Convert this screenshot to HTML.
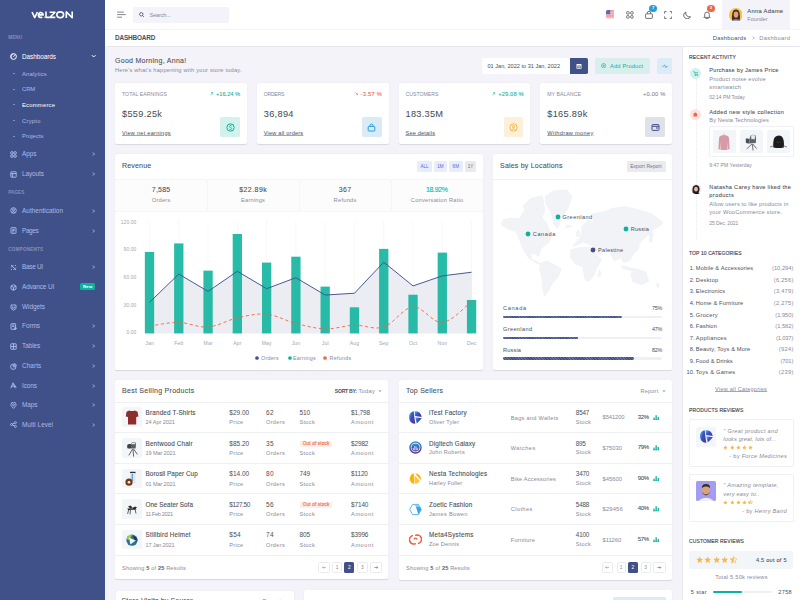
<!DOCTYPE html><html><head><meta charset="utf-8"><style>*{margin:0;padding:0;box-sizing:border-box}
html,body{width:800px;height:600px;overflow:hidden;background:#f3f3f9;font-family:"Liberation Sans", sans-serif}
.b{position:absolute;display:block}
.t{position:absolute;line-height:0;white-space:nowrap}
</style></head><body>
<div class="b" style="left:0px;top:0px;width:105px;height:600px;background:#405189;border-radius:0px;"></div>
<svg class="b" style="left:0px;top:0px;" width="105" height="30" viewBox="0 0 105 30"><g fill="none" stroke="#fff" stroke-width="1.6" stroke-linejoin="round"><path d="M32 12 L34.7 17.6 L37.4 12"/><path d="M38.4 14.9 H43.2 A2.45 2.45 0 1 0 42.2 17"/><path d="M46 11.6 V17.4 H49"/><path d="M49.6 12.2 H55 L49.8 17.4 H55.3"/><ellipse cx="60.2" cy="14.8" rx="3.4" ry="2.9"/><path d="M66.3 18 V11.9 L72.2 17.7 V11.6"/></g><circle cx="44.6" cy="17.2" r="0.75" fill="#f7b84b"/></svg>
<div class="t" id="t0" style="top:38px;font-size:4.6px;color:#838fb9;font-weight:600;letter-spacing:0.056px;left:8.3px;">MENU</div>
<svg class="b" style="left:10.3px;top:52.9px;" width="7" height="7" viewBox="0 0 7 7"><g fill="none" stroke="#fff" stroke-width="1"><circle cx="3.5" cy="3.5" r="2.9"/><path d="M3.5 3.8 L5 2.2"/><path d="M1.9 4.9 A1.9 1.9 0 0 1 3.5 1.6" stroke-width="0.7"/></g></svg>
<div class="t" id="t1" style="top:56.7px;font-size:6.4px;color:#fff;letter-spacing:-0.052px;left:22px;">Dashboards</div>
<svg class="b" style="left:90.8px;top:54px;" width="5.4" height="4" viewBox="0 0 5.4 4"><path d="M0.9 1.2 L2.7 3 L4.5 1.2" stroke="#fff" stroke-width="1" fill="none"/></svg>
<div class="b" style="left:12.6px;top:73.15px;width:2.2px;height:0.55px;background:rgba(171,185,232,.6);border-radius:0px;"></div>
<div class="t" id="t2" style="top:73.75px;font-size:5.9px;color:#abb9e8;letter-spacing:0.146px;left:22px;">Analytics</div>
<div class="b" style="left:12.6px;top:88.65px;width:2.2px;height:0.55px;background:rgba(171,185,232,.6);border-radius:0px;"></div>
<div class="t" id="t3" style="top:89.25px;font-size:5.9px;color:#abb9e8;letter-spacing:-0.111px;left:22px;">CRM</div>
<div class="b" style="left:12.6px;top:104.4px;width:2.2px;height:0.55px;background:rgba(171,185,232,.6);border-radius:0px;"></div>
<div class="t" id="t4" style="top:105px;font-size:5.9px;color:#fff;letter-spacing:0.195px;left:22px;">Ecommerce</div>
<div class="b" style="left:12.6px;top:120.15px;width:2.2px;height:0.55px;background:rgba(171,185,232,.6);border-radius:0px;"></div>
<div class="t" id="t5" style="top:120.75px;font-size:5.9px;color:#abb9e8;letter-spacing:0.228px;left:22px;">Crypto</div>
<div class="b" style="left:12.6px;top:135.65px;width:2.2px;height:0.55px;background:rgba(171,185,232,.6);border-radius:0px;"></div>
<div class="t" id="t6" style="top:136.25px;font-size:5.9px;color:#abb9e8;letter-spacing:0.031px;left:22px;">Projects</div>
<svg class="b" style="left:10.3px;top:150.75px;" width="7" height="7" viewBox="0 0 7 7"><g fill="none" stroke="#abb9e8" stroke-width="0.95"><circle cx="1.9" cy="1.9" r="1.3"/><circle cx="5.1" cy="1.9" r="1.3"/><circle cx="1.9" cy="5.1" r="1.3"/><circle cx="5.1" cy="5.1" r="1.3"/></g></svg>
<div class="t" id="t7" style="top:154.25px;font-size:6.4px;color:#abb9e8;letter-spacing:-0.026px;left:22px;">Apps</div>
<svg class="b" style="left:91.2px;top:151.25px;" width="6" height="6" viewBox="0 0 6 6"><path d="M1.9 1.5 L3.4 3 L1.9 4.5" stroke="#abb9e8" stroke-width="0.95" fill="none"/></svg>
<svg class="b" style="left:10.3px;top:170.5px;" width="7" height="7" viewBox="0 0 7 7"><g fill="none" stroke="#abb9e8" stroke-width="0.95"><rect x="0.8" y="0.8" width="5.4" height="5.4" rx="0.5"/><path d="M0.8 2.6 H6.2 M2.6 2.6 V6.2"/></g></svg>
<div class="t" id="t8" style="top:174.0px;font-size:6.4px;color:#abb9e8;letter-spacing:-0.065px;left:22px;">Layouts</div>
<svg class="b" style="left:91.2px;top:171.0px;" width="6" height="6" viewBox="0 0 6 6"><path d="M1.9 1.5 L3.4 3 L1.9 4.5" stroke="#abb9e8" stroke-width="0.95" fill="none"/></svg>
<div class="t" id="t9" style="top:192.5px;font-size:4.6px;color:#838fb9;font-weight:600;letter-spacing:0.062px;left:8.3px;">PAGES</div>
<svg class="b" style="left:10.3px;top:207.25px;" width="7" height="7" viewBox="0 0 7 7"><g fill="none" stroke="#abb9e8" stroke-width="0.95"><circle cx="3.5" cy="3.5" r="2.8"/><circle cx="3.5" cy="3" r="1"/><path d="M1.8 5.6 Q3.5 3.8 5.2 5.6"/></g></svg>
<div class="t" id="t10" style="top:210.75px;font-size:6.4px;color:#abb9e8;letter-spacing:0.037px;left:22px;">Authentication</div>
<svg class="b" style="left:91.2px;top:207.75px;" width="6" height="6" viewBox="0 0 6 6"><path d="M1.9 1.5 L3.4 3 L1.9 4.5" stroke="#abb9e8" stroke-width="0.95" fill="none"/></svg>
<svg class="b" style="left:10.3px;top:227.0px;" width="7" height="7" viewBox="0 0 7 7"><g fill="none" stroke="#abb9e8" stroke-width="0.95"><rect x="1" y="0.7" width="5" height="5.6" rx="0.5"/><path d="M2.3 2.3 H4.7 M2.3 3.6 H4.7 M2.3 4.9 H3.8"/></g></svg>
<div class="t" id="t11" style="top:230.5px;font-size:6.4px;color:#abb9e8;letter-spacing:-0.356px;left:22px;">Pages</div>
<svg class="b" style="left:91.2px;top:227.5px;" width="6" height="6" viewBox="0 0 6 6"><path d="M1.9 1.5 L3.4 3 L1.9 4.5" stroke="#abb9e8" stroke-width="0.95" fill="none"/></svg>
<div class="t" id="t12" style="top:249.5px;font-size:4.6px;color:#838fb9;font-weight:600;letter-spacing:0.201px;left:8.3px;">COMPONENTS</div>
<svg class="b" style="left:10.3px;top:263.75px;" width="7" height="7" viewBox="0 0 7 7"><g fill="none" stroke="#abb9e8" stroke-width="0.95"><path d="M1 1 L6 6 M1 3.5 L3.5 1 M3.5 6 L6 3.5 M1 6 L2 5 M5 2 L6 1"/></g></svg>
<div class="t" id="t13" style="top:267.25px;font-size:6.4px;color:#abb9e8;letter-spacing:-0.289px;left:22px;">Base UI</div>
<svg class="b" style="left:91.2px;top:264.25px;" width="6" height="6" viewBox="0 0 6 6"><path d="M1.9 1.5 L3.4 3 L1.9 4.5" stroke="#abb9e8" stroke-width="0.95" fill="none"/></svg>
<svg class="b" style="left:10.3px;top:283.5px;" width="7" height="7" viewBox="0 0 7 7"><g fill="none" stroke="#abb9e8" stroke-width="0.95"><path d="M3.5 0.7 L6 2 V5 L3.5 6.3 L1 5 V2 Z M1 2 L3.5 3.3 L6 2 M3.5 3.3 V6.3"/></g></svg>
<div class="t" id="t14" style="top:287.0px;font-size:6.4px;color:#abb9e8;letter-spacing:-0.089px;left:22px;">Advance UI</div>
<svg class="b" style="left:10.3px;top:303.75px;" width="7" height="7" viewBox="0 0 7 7"><g fill="none" stroke="#abb9e8" stroke-width="0.95"><path d="M1 1 H6 V4.5 L3.5 6.3 L1 4.5 Z M2.4 2.5 V4 H4.6 V2.5"/></g></svg>
<div class="t" id="t15" style="top:307.25px;font-size:6.4px;color:#abb9e8;letter-spacing:-0.016px;left:22px;">Widgets</div>
<svg class="b" style="left:10.3px;top:322.75px;" width="7" height="7" viewBox="0 0 7 7"><g fill="none" stroke="#abb9e8" stroke-width="0.95"><rect x="1" y="0.7" width="4.6" height="5.6" rx="0.4"/><path d="M2.2 2.2 H4.4 M2.2 3.4 H4.4"/><circle cx="5.4" cy="5.4" r="0.9" fill="#abb9e8"/></g></svg>
<div class="t" id="t16" style="top:326.25px;font-size:6.4px;color:#abb9e8;letter-spacing:-0.027px;left:22px;">Forms</div>
<svg class="b" style="left:91.2px;top:323.25px;" width="6" height="6" viewBox="0 0 6 6"><path d="M1.9 1.5 L3.4 3 L1.9 4.5" stroke="#abb9e8" stroke-width="0.95" fill="none"/></svg>
<svg class="b" style="left:10.3px;top:342.75px;" width="7" height="7" viewBox="0 0 7 7"><g fill="none" stroke="#abb9e8" stroke-width="0.95"><rect x="0.8" y="0.8" width="5.4" height="5.4" rx="0.4"/><path d="M0.8 3.5 H6.2 M3.5 0.8 V6.2"/></g></svg>
<div class="t" id="t17" style="top:346.25px;font-size:6.4px;color:#abb9e8;letter-spacing:-0.047px;left:22px;">Tables</div>
<svg class="b" style="left:91.2px;top:343.25px;" width="6" height="6" viewBox="0 0 6 6"><path d="M1.9 1.5 L3.4 3 L1.9 4.5" stroke="#abb9e8" stroke-width="0.95" fill="none"/></svg>
<svg class="b" style="left:10.3px;top:362.5px;" width="7" height="7" viewBox="0 0 7 7"><g fill="none" stroke="#abb9e8" stroke-width="0.95"><path d="M3.2 1 A2.7 2.7 0 1 0 6 3.8 H3.2 Z"/><path d="M4.2 0.6 A2.5 2.5 0 0 1 6.4 2.8 H4.2 Z"/></g></svg>
<div class="t" id="t18" style="top:366.0px;font-size:6.4px;color:#abb9e8;letter-spacing:0.084px;left:22px;">Charts</div>
<svg class="b" style="left:91.2px;top:363.0px;" width="6" height="6" viewBox="0 0 6 6"><path d="M1.9 1.5 L3.4 3 L1.9 4.5" stroke="#abb9e8" stroke-width="0.95" fill="none"/></svg>
<svg class="b" style="left:10.3px;top:382.25px;" width="7" height="7" viewBox="0 0 7 7"><g fill="none" stroke="#abb9e8" stroke-width="0.95"><path d="M0.8 6.3 L3 0.8 L5.2 6.3 M1.7 4.2 H4.3 M4.2 2.5 L6.3 5.5"/></g></svg>
<div class="t" id="t19" style="top:385.75px;font-size:6.4px;color:#abb9e8;letter-spacing:-0.070px;left:22px;">Icons</div>
<svg class="b" style="left:91.2px;top:382.75px;" width="6" height="6" viewBox="0 0 6 6"><path d="M1.9 1.5 L3.4 3 L1.9 4.5" stroke="#abb9e8" stroke-width="0.95" fill="none"/></svg>
<svg class="b" style="left:10.3px;top:401.5px;" width="7" height="7" viewBox="0 0 7 7"><g fill="none" stroke="#abb9e8" stroke-width="0.95"><path d="M3.5 6.4 C1 4 0.9 3 0.9 2.7 A2.6 2.6 0 0 1 6.1 2.7 C6.1 3 6 4 3.5 6.4 Z"/><circle cx="3.5" cy="2.8" r="0.9"/></g></svg>
<div class="t" id="t20" style="top:405.0px;font-size:6.4px;color:#abb9e8;letter-spacing:-0.047px;left:22px;">Maps</div>
<svg class="b" style="left:91.2px;top:402.0px;" width="6" height="6" viewBox="0 0 6 6"><path d="M1.9 1.5 L3.4 3 L1.9 4.5" stroke="#abb9e8" stroke-width="0.95" fill="none"/></svg>
<svg class="b" style="left:10.3px;top:421.25px;" width="7" height="7" viewBox="0 0 7 7"><g fill="none" stroke="#abb9e8" stroke-width="0.95"><circle cx="1.6" cy="3.5" r="1"/><circle cx="5.4" cy="1.6" r="1"/><circle cx="5.4" cy="5.4" r="1"/><path d="M2.5 3 L4.5 2 M2.5 4 L4.5 5"/></g></svg>
<div class="t" id="t21" style="top:424.75px;font-size:6.4px;color:#abb9e8;letter-spacing:0.045px;left:22px;">Multi Level</div>
<svg class="b" style="left:91.2px;top:421.75px;" width="6" height="6" viewBox="0 0 6 6"><path d="M1.9 1.5 L3.4 3 L1.9 4.5" stroke="#abb9e8" stroke-width="0.95" fill="none"/></svg>
<div class="b" style="left:80px;top:282.8px;width:15.3px;height:7.7px;background:#0ab39c;border-radius:1.5px;"></div>
<div class="t" id="t22" style="top:286.6px;font-size:4.3px;color:#fff;font-weight:600;letter-spacing:0.258px;left:87.779px;transform:translateX(-50%);">New</div>
<div class="b" style="left:105px;top:0px;width:695px;height:30px;background:#fff;border-radius:0px;"></div>
<div class="b" style="left:105px;top:28.9px;width:695px;height:0.9px;background:#f3f4f7;border-radius:0px;"></div>
<svg class="b" style="left:116px;top:10px;" width="11" height="9" viewBox="0 0 11 9"><g stroke="#7c808c" stroke-width="0.95"><path d="M1.1 2.1 H7.9 M1.1 4.6 H9.75 M1.1 7.2 H6"/></g></svg>
<div class="b" style="left:133px;top:7px;width:96px;height:15.5px;background:#f3f3f9;border-radius:2px;"></div>
<svg class="b" style="left:139.3px;top:12px;" width="5.5" height="5.5" viewBox="0 0 5.5 5.5"><g fill="none" stroke="#495057" stroke-width="0.8"><circle cx="2.3" cy="2.3" r="1.7"/><path d="M3.5 3.5 L4.9 4.9"/></g></svg>
<div class="t" id="t23" style="top:14.7px;font-size:5.6px;color:#878a99;letter-spacing:-0.174px;left:149.6px;">Search...</div>
<svg class="b" style="left:605.8px;top:10.2px;" width="8.6" height="8.6" viewBox="0 0 8.6 8.6"><defs><clipPath id="fc"><rect x="0" y="0" width="8.6" height="8.6" rx="1.9"/></clipPath></defs><g clip-path="url(#fc)"><rect width="8.6" height="8.6" fill="#f59aa6"/><rect y="2" width="8.6" height="0.7" fill="#fbd3d8"/><rect y="4.4" width="8.6" height="0.7" fill="#fbd3d8"/><rect y="6.8" width="8.6" height="0.7" fill="#fbd3d8"/><rect width="4.2" height="4.2" fill="#6268ad"/></g></svg>
<svg class="b" style="left:625.5px;top:11px;" width="8" height="8" viewBox="0 0 8 8"><g fill="none" stroke="#495057" stroke-width="0.8"><rect x="0.6" y="0.6" width="2.6" height="2.6" rx="1"/><rect x="4.6" y="0.6" width="2.6" height="2.6" rx="1"/><rect x="0.6" y="4.6" width="2.6" height="2.6" rx="1"/><rect x="4.6" y="4.6" width="2.6" height="2.6" rx="1"/></g></svg>
<svg class="b" style="left:644.8px;top:11.2px;" width="8" height="7.8" viewBox="0 0 8 7.8"><g fill="none" stroke="#495057" stroke-width="0.8"><rect x="0.6" y="2.8" width="6.8" height="4.6" rx="0.6"/><path d="M2.4 2.8 V1.8 A1.6 1.6 0 0 1 5.6 1.8 V2.8"/></g></svg>
<div class="b" style="left:649.3px;top:5.2px;width:7.5px;height:6.5px;background:#299cdb;border-radius:4px;"></div>
<div class="t" id="t24" style="top:8.45px;font-size:4.2px;color:#fff;font-weight:600;letter-spacing:0.252px;left:653.176px;transform:translateX(-50%);">7</div>
<svg class="b" style="left:663.8px;top:11px;" width="8.4" height="8" viewBox="0 0 8.4 8"><g fill="none" stroke="#495057" stroke-width="0.8"><path d="M0.6 2.6 V0.6 H2.6 M5.8 0.6 H7.8 V2.6 M7.8 5.4 V7.4 H5.8 M2.6 7.4 H0.6 V5.4"/></g></svg>
<svg class="b" style="left:682.8px;top:11.2px;" width="8.4" height="8" viewBox="0 0 8.4 8"><path d="M2.9 1 A3.5 3.5 0 1 0 7.4 5.7 A3.7 3.7 0 0 1 2.9 1 Z" fill="none" stroke="#495057" stroke-width="0.85" stroke-linejoin="round"/></svg>
<svg class="b" style="left:702.8px;top:10.8px;" width="8" height="8.4" viewBox="0 0 8 8.4"><g fill="none" stroke="#495057" stroke-width="0.8" stroke-linejoin="round"><path d="M0.8 6.4 H7.2 L6.3 5.3 V3.4 A2.3 2.3 0 0 0 1.7 3.4 V5.3 Z"/><path d="M2.9 7.6 H5.1" stroke-linecap="round"/></g></svg>
<div class="b" style="left:707px;top:5px;width:8px;height:6.5px;background:#f06548;border-radius:4px;"></div>
<div class="t" id="t25" style="top:8.3px;font-size:4.2px;color:#fff;font-weight:600;letter-spacing:0.252px;left:711.126px;transform:translateX(-50%);">3</div>
<div class="b" style="left:722px;top:0px;width:68px;height:29px;background:#f3f3f9;border-radius:0px;"></div>
<svg class="b" style="left:728.5px;top:7.6px;" width="13.8" height="13.8" viewBox="0 0 13.8 13.8"><defs><clipPath id="av"><circle cx="6.9" cy="6.9" r="6.9"/></clipPath></defs><g clip-path="url(#av)"><rect width="13.8" height="13.8" fill="#f6c445"/><path d="M3.2 13 Q2.6 8 3.4 5 Q4.4 1.6 7 1.6 Q9.8 1.8 10.6 5 Q11.4 8.6 10.6 13 Z" fill="#4a2c20"/><ellipse cx="7" cy="6.6" rx="2.3" ry="3.1" fill="#d9a58a"/><path d="M2 14 Q3.6 11 7 11.4 Q10.4 11 12 14 Z" fill="#9aa0b8"/></g></svg>
<div class="t" id="t26" style="top:10.5px;font-size:5.8px;color:#495057;font-weight:500;-webkit-text-stroke-width:0.08px;letter-spacing:0.289px;left:747.3px;">Anna Adame</div>
<div class="t" id="t27" style="top:18.7px;font-size:5.3px;color:#878a99;letter-spacing:0.094px;left:747.3px;">Founder</div>
<div class="b" style="left:105px;top:29.8px;width:695px;height:16.4px;background:#fff;border-radius:0px;box-shadow:0 0.6px 0.9px rgba(56,65,74,.07)"></div>
<div class="t" id="t28" style="top:38.1px;font-size:6.4px;color:#495057;font-weight:700;letter-spacing:-0.143px;left:115px;">DASHBOARD</div>
<div class="t" id="t29" style="top:37.6px;font-size:5.8px;color:#495057;letter-spacing:0.237px;left:712.8px;">Dashboards</div>
<svg class="b" style="left:751.6px;top:35.8px;" width="3" height="4" viewBox="0 0 3 4"><path d="M0.8 0.6 L2.2 2 L0.8 3.4" stroke="#878a99" stroke-width="0.7" fill="none"/></svg>
<div class="t" id="t30" style="top:37.6px;font-size:5.8px;color:#878a99;letter-spacing:0.293px;left:759.3px;">Dashboard</div>
<div class="b" style="left:682px;top:46.5px;width:118px;height:553.5px;background:#fff;border-radius:0px;border-left:0.5px solid #e9ebec"></div>
<div class="t" id="t31" style="top:57px;font-size:5.0px;color:#495057;-webkit-text-stroke-width:0.16px;letter-spacing:0.193px;left:689px;">RECENT ACTIVITY</div>
<div class="b" style="left:695.9px;top:79px;width:0;height:159.7px;border-left:0.6px dotted #e9ebef"></div>
<div class="b" style="left:690.1px;top:68.1px;width:11.1px;height:11.1px;background:#d3f1ed;border-radius:6px;"></div>
<svg class="b" style="left:692.9px;top:71px;" width="5.6" height="5.4" viewBox="0 0 5.6 5.4"><g fill="none" stroke="#0ab39c" stroke-width="0.6"><path d="M0.4 0.6 H1.4 L2.2 3.6 H4.8 L5.2 1.6 H1.8"/><circle cx="2.3" cy="4.6" r="0.4"/><circle cx="4.5" cy="4.6" r="0.4"/></g></svg>
<div class="t" id="t32" style="top:70.3px;font-size:5.6px;color:#495057;font-weight:500;-webkit-text-stroke-width:0.07px;letter-spacing:0.254px;left:709.3px;">Purchase by James Price</div>
<div class="t" id="t33" style="top:78.6px;font-size:5.7px;color:#878a99;letter-spacing:0.194px;left:709.3px;">Product noise evolve</div>
<div class="t" id="t34" style="top:87.1px;font-size:5.7px;color:#878a99;letter-spacing:0.291px;left:709.3px;">smartwatch</div>
<div class="t" id="t35" style="top:97.1px;font-size:5.0px;color:#878a99;letter-spacing:-0.050px;left:709.3px;">02:14 PM Today</div>
<div class="b" style="left:690.1px;top:109.1px;width:11.1px;height:11.1px;background:#fde4de;border-radius:6px;"></div>
<svg class="b" style="left:693.4px;top:112.2px;" width="4.6" height="5" viewBox="0 0 4.6 5"><path d="M0.5 1.5 L2.3 0.5 L4.1 1.5 V4.5 H0.5 Z" fill="#f06548"/></svg>
<div class="t" id="t36" style="top:111.5px;font-size:5.6px;color:#495057;font-weight:500;-webkit-text-stroke-width:0.07px;letter-spacing:0.343px;left:709.3px;">Added new style collection</div>
<div class="t" id="t37" style="top:119.6px;font-size:5.7px;color:#878a99;letter-spacing:0.087px;left:709.3px;">By Nesta Technologies</div>
<div class="b" style="left:709.1px;top:126.2px;width:84.6px;height:31.2px;background:transparent;border-radius:1.5px;border:0.6px dotted #dfe2e8"></div>
<div class="b" style="left:713.2px;top:130.3px;width:23px;height:22.8px;background:#f3f6f9;border-radius:1.5px;"></div>
<div class="b" style="left:739.8px;top:130.3px;width:23px;height:22.8px;background:#f3f6f9;border-radius:1.5px;"></div>
<div class="b" style="left:766.6px;top:130.3px;width:23px;height:22.8px;background:#f3f6f9;border-radius:1.5px;"></div>
<svg class="b" style="left:713.2px;top:130.3px;" width="23" height="23" viewBox="0 0 23 23"><path d="M11 3.2 Q11.6 4 11 5" stroke="#b08a6a" stroke-width="0.4" fill="none"/><path d="M8.2 5.6 Q11 4.6 13.8 5.6 Q15.6 6 16 8 L16.6 19 L15 19.4 L14.6 12 L14.4 20 H7.6 L7.4 12 L7 19.4 L5.4 19 L6 8 Q6.4 6 8.2 5.6 Z" fill="#d99aa7"/></svg>
<svg class="b" style="left:739.8px;top:130.3px;" width="23" height="23" viewBox="0 0 23 23"><path d="M5.8 9 Q6.2 8.2 7.4 8.4 L9.4 9 V13.6 L6.6 13.2 Q5.6 12.6 5.8 11.5 Z" fill="#4a4f56"/><path d="M10.6 5.5 Q13 4 15.6 5.2 Q16.4 8 15.8 13 L9.4 13.6 V9 Z" fill="#5d636b"/><path d="M11 5.6 Q13.2 4.4 15.2 5.6 L14.6 9.4 Q12.8 8.6 11.4 9.2 Z" fill="#e9e9e9"/><path d="M12 14 L6.6 19 M12.4 14.2 L13 20.4 M12.8 14 L16.6 18.6" stroke="#45464a" stroke-width="0.75"/></svg>
<svg class="b" style="left:766.6px;top:130.3px;" width="23" height="23" viewBox="0 0 23 23"><path d="M6.4 17.6 Q5.6 10 8 7 Q11.4 4.2 14.8 6.6 Q17.6 9.6 16.8 17.6 Q11.6 18.6 6.4 17.6 Z" fill="#1d1d1f"/><path d="M3.2 17 L7 15.6 M19.8 17 L16.4 15.6" stroke="#333" stroke-width="0.6"/><path d="M9.5 12 Q11.5 13 13.5 12" stroke="#6a5a3a" stroke-width="0.4" fill="none"/></svg>
<div class="t" id="t38" style="top:165.1px;font-size:5.0px;color:#878a99;letter-spacing:0.032px;left:709.3px;">9:47 PM Yesterday</div>
<svg class="b" style="left:690.8px;top:184px;" width="10.4" height="10.4" viewBox="0 0 10.4 10.4"><defs><clipPath id="nv"><circle cx="5.2" cy="5.2" r="5.2"/></clipPath></defs><g clip-path="url(#nv)"><rect width="10.4" height="10.4" fill="#e9ecef"/><path d="M1.6 9.6 Q0.8 5 2.2 2.6 Q4 0.6 6.2 1.2 Q8.6 2 8.6 5 Q8.4 7.6 7.4 9 Z" fill="#2b1d19"/><ellipse cx="5" cy="5.2" rx="1.9" ry="2.4" fill="#e2b9a6"/><path d="M2 10.6 Q4.6 7.8 9 9 L10.4 10.4 Z" fill="#111"/></g></svg>
<div class="t" id="t39" style="top:186.6px;font-size:5.6px;color:#495057;font-weight:500;-webkit-text-stroke-width:0.07px;letter-spacing:0.300px;left:709.3px;">Natasha Carey have liked the</div>
<div class="t" id="t40" style="top:194.6px;font-size:5.6px;color:#495057;font-weight:500;-webkit-text-stroke-width:0.07px;letter-spacing:0.447px;left:709.3px;">products</div>
<div class="t" id="t41" style="top:204.1px;font-size:5.7px;color:#878a99;letter-spacing:0.136px;left:709.3px;">Allow users to like products in</div>
<div class="t" id="t42" style="top:211.8px;font-size:5.7px;color:#878a99;letter-spacing:0.215px;left:709.3px;">your WooCommerce store.</div>
<div class="t" id="t43" style="top:222.6px;font-size:5.0px;color:#878a99;letter-spacing:-0.068px;left:709.3px;">25 Dec, 2021</div>
<div class="t" id="t44" style="top:252.6px;font-size:5.0px;color:#495057;-webkit-text-stroke-width:0.16px;letter-spacing:0.103px;left:689px;">TOP 10 CATEGORIES</div>
<div class="t" id="t45" style="top:268.2px;font-size:5.7px;color:#495057;letter-spacing:0.100px;right:105.39999999999998px;margin-right:-0.100px;">1.</div>
<div class="t" id="t46" style="top:268.2px;font-size:5.7px;color:#495057;letter-spacing:0.176px;left:695.8px;">Mobile &amp; Accessories</div>
<div class="t" id="t47" style="top:268.2px;font-size:5.7px;color:#878a99;letter-spacing:0.016px;right:6.7000000000000455px;margin-right:-0.016px;">(10,294)</div>
<div class="t" id="t48" style="top:279.78px;font-size:5.7px;color:#495057;letter-spacing:0.100px;right:105.39999999999998px;margin-right:-0.100px;">2.</div>
<div class="t" id="t49" style="top:279.78px;font-size:5.7px;color:#495057;letter-spacing:0.271px;left:695.8px;">Desktop</div>
<div class="t" id="t50" style="top:279.78px;font-size:5.7px;color:#878a99;letter-spacing:0.245px;right:6.7000000000000455px;margin-right:-0.245px;">(6,256)</div>
<div class="t" id="t51" style="top:291.36px;font-size:5.7px;color:#495057;letter-spacing:0.100px;right:105.39999999999998px;margin-right:-0.100px;">3.</div>
<div class="t" id="t52" style="top:291.36px;font-size:5.7px;color:#495057;letter-spacing:0.157px;left:695.8px;">Electronics</div>
<div class="t" id="t53" style="top:291.36px;font-size:5.7px;color:#878a99;letter-spacing:0.245px;right:6.7000000000000455px;margin-right:-0.245px;">(3,479)</div>
<div class="t" id="t54" style="top:302.94px;font-size:5.7px;color:#495057;letter-spacing:0.100px;right:105.39999999999998px;margin-right:-0.100px;">4.</div>
<div class="t" id="t55" style="top:302.94px;font-size:5.7px;color:#495057;letter-spacing:0.167px;left:695.8px;">Home &amp; Furniture</div>
<div class="t" id="t56" style="top:302.94px;font-size:5.7px;color:#878a99;letter-spacing:0.245px;right:6.7000000000000455px;margin-right:-0.245px;">(2,275)</div>
<div class="t" id="t57" style="top:314.52px;font-size:5.7px;color:#495057;letter-spacing:0.100px;right:105.39999999999998px;margin-right:-0.100px;">5.</div>
<div class="t" id="t58" style="top:314.52px;font-size:5.7px;color:#495057;letter-spacing:0.278px;left:695.8px;">Grocery</div>
<div class="t" id="t59" style="top:314.52px;font-size:5.7px;color:#878a99;letter-spacing:-0.005px;right:6.7000000000000455px;margin-right:0.005px;">(1,950)</div>
<div class="t" id="t60" style="top:326.09999999999997px;font-size:5.7px;color:#495057;letter-spacing:0.100px;right:105.39999999999998px;margin-right:-0.100px;">6.</div>
<div class="t" id="t61" style="top:326.09999999999997px;font-size:5.7px;color:#495057;letter-spacing:0.128px;left:695.8px;">Fashion</div>
<div class="t" id="t62" style="top:326.09999999999997px;font-size:5.7px;color:#878a99;letter-spacing:-0.005px;right:6.7000000000000455px;margin-right:0.005px;">(1,582)</div>
<div class="t" id="t63" style="top:337.68px;font-size:5.7px;color:#495057;letter-spacing:0.100px;right:105.39999999999998px;margin-right:-0.100px;">7.</div>
<div class="t" id="t64" style="top:337.68px;font-size:5.7px;color:#495057;letter-spacing:0.341px;left:695.8px;">Appliances</div>
<div class="t" id="t65" style="top:337.68px;font-size:5.7px;color:#878a99;letter-spacing:-0.105px;right:6.7000000000000455px;margin-right:0.105px;">(1,037)</div>
<div class="t" id="t66" style="top:349.26px;font-size:5.7px;color:#495057;letter-spacing:0.100px;right:105.39999999999998px;margin-right:-0.100px;">8.</div>
<div class="t" id="t67" style="top:349.26px;font-size:5.7px;color:#495057;letter-spacing:0.136px;left:695.8px;">Beauty, Toys &amp; More</div>
<div class="t" id="t68" style="top:349.26px;font-size:5.7px;color:#878a99;letter-spacing:0.305px;right:6.7000000000000455px;margin-right:-0.305px;">(924)</div>
<div class="t" id="t69" style="top:360.84px;font-size:5.7px;color:#495057;letter-spacing:0.100px;right:105.39999999999998px;margin-right:-0.100px;">9.</div>
<div class="t" id="t70" style="top:360.84px;font-size:5.7px;color:#495057;letter-spacing:0.071px;left:695.8px;">Food &amp; Drinks</div>
<div class="t" id="t71" style="top:360.84px;font-size:5.7px;color:#878a99;letter-spacing:-0.095px;right:6.7000000000000455px;margin-right:0.095px;">(701)</div>
<div class="t" id="t72" style="top:372.41999999999996px;font-size:5.7px;color:#495057;letter-spacing:0.100px;right:105.39999999999998px;margin-right:-0.100px;">10.</div>
<div class="t" id="t73" style="top:372.41999999999996px;font-size:5.7px;color:#495057;letter-spacing:0.220px;left:695.8px;">Toys &amp; Games</div>
<div class="t" id="t74" style="top:372.41999999999996px;font-size:5.7px;color:#878a99;letter-spacing:0.305px;right:6.7000000000000455px;margin-right:-0.305px;">(239)</div>
<div class="t" id="t75" style="top:389.1px;font-size:5.6px;color:#878a99;text-decoration:underline;text-underline-offset:0.2px;text-decoration-thickness:0.45px;text-decoration-color:rgba(73,80,87,.5);letter-spacing:0.223px;left:741.112px;transform:translateX(-50%);">View all Categories</div>
<div class="t" id="t76" style="top:409.5px;font-size:5.0px;color:#495057;-webkit-text-stroke-width:0.16px;letter-spacing:0.119px;left:689px;">PRODUCTS REVIEWS</div>
<div class="b" style="left:689px;top:419.3px;width:104.5px;height:47.4px;background:transparent;border-radius:1.5px;border:0.6px dotted #dfe2e8"></div>
<div class="b" style="left:696px;top:426.7px;width:20px;height:20px;background:#f3f6f9;border-radius:1.5px;"></div>
<svg class="b" style="left:699.6px;top:430px;" width="13" height="13" viewBox="0 0 13 13"><defs><linearGradient id="lgr" x1="0" y1="0.2" x2="1" y2="0.8"><stop offset="0" stop-color="#3fb0ec"/><stop offset="0.45" stop-color="#3b4fb8"/><stop offset="1" stop-color="#5b2d9a"/></linearGradient></defs><path d="M4.7 0.25 A6.4 6.4 0 0 0 6.3 12.8 L5.2 5.2 Z" fill="url(#lgr)"/><path d="M5.6 0.2 A6.4 6.4 0 0 1 12.7 5.9 L6 5 Z" fill="url(#lgr)"/><path d="M6.3 6.2 L12.9 7.3 L7.8 12.4 Z" fill="url(#lgr)"/></svg>
<div class="t" id="t77" style="top:430.8px;font-size:5.6px;color:#878a99;font-style:italic;letter-spacing:0.314px;left:723.3px;">&quot; Great product and</div>
<div class="t" id="t78" style="top:439.1px;font-size:5.6px;color:#878a99;font-style:italic;letter-spacing:0.120px;left:723.3px;">looks great, lots of...</div>
<svg class="b" style="left:723.4px;top:444.9px;" width="4.8" height="4.8" viewBox="0 0 4.8 4.8"><path d="M2.40 0.30 L3.03 1.83 L4.68 1.96 L3.43 3.03 L3.81 4.64 L2.40 3.78 L0.99 4.64 L1.37 3.03 L0.12 1.96 L1.77 1.83 Z" fill="#f7b84b"/></svg>
<svg class="b" style="left:729.6px;top:444.9px;" width="4.8" height="4.8" viewBox="0 0 4.8 4.8"><path d="M2.40 0.30 L3.03 1.83 L4.68 1.96 L3.43 3.03 L3.81 4.64 L2.40 3.78 L0.99 4.64 L1.37 3.03 L0.12 1.96 L1.77 1.83 Z" fill="#f7b84b"/></svg>
<svg class="b" style="left:735.8px;top:444.9px;" width="4.8" height="4.8" viewBox="0 0 4.8 4.8"><path d="M2.40 0.30 L3.03 1.83 L4.68 1.96 L3.43 3.03 L3.81 4.64 L2.40 3.78 L0.99 4.64 L1.37 3.03 L0.12 1.96 L1.77 1.83 Z" fill="#f7b84b"/></svg>
<svg class="b" style="left:742.0px;top:444.9px;" width="4.8" height="4.8" viewBox="0 0 4.8 4.8"><path d="M2.40 0.30 L3.03 1.83 L4.68 1.96 L3.43 3.03 L3.81 4.64 L2.40 3.78 L0.99 4.64 L1.37 3.03 L0.12 1.96 L1.77 1.83 Z" fill="#f7b84b"/></svg>
<svg class="b" style="left:748.1999999999999px;top:444.9px;" width="4.8" height="4.8" viewBox="0 0 4.8 4.8"><path d="M2.40 0.30 L3.03 1.83 L4.68 1.96 L3.43 3.03 L3.81 4.64 L2.40 3.78 L0.99 4.64 L1.37 3.03 L0.12 1.96 L1.77 1.83 Z" fill="#f7b84b"/></svg>
<div class="t" id="t79" style="top:456.1px;font-size:5.6px;color:#878a99;letter-spacing:0.287px;right:13.299999999999955px;margin-right:-0.287px;">- by <i>Force Medicines</i></div>
<div class="b" style="left:689px;top:474px;width:104.5px;height:47.7px;background:transparent;border-radius:1.5px;border:0.6px dotted #dfe2e8"></div>
<svg class="b" style="left:696px;top:481px;" width="20" height="20" viewBox="0 0 20 20"><rect width="20" height="20" rx="1.5" fill="#a29cf2"/><ellipse cx="10" cy="9" rx="4.2" ry="5" fill="#d8a27e"/><path d="M5.8 7 Q6 3 10 3 Q14 3 14.2 7 Q12 5 10 5.5 Q8 5 5.8 7 Z" fill="#3a2a20"/><path d="M6 11 Q10 16 14 11 Q13 14 10 14.5 Q7 14 6 11 Z" fill="#3a2a20"/><path d="M2 20 Q10 13.5 18 20 Z" fill="#eef0f2"/></svg>
<div class="t" id="t80" style="top:485.3px;font-size:5.6px;color:#878a99;font-style:italic;letter-spacing:0.296px;left:723.3px;">&quot; Amazing template,</div>
<div class="t" id="t81" style="top:493.5px;font-size:5.6px;color:#878a99;font-style:italic;letter-spacing:0.210px;left:723.3px;">very easy to..</div>
<svg class="b" style="left:723.4px;top:499.7px;" width="4.8" height="4.8" viewBox="0 0 4.8 4.8"><path d="M2.40 0.30 L3.03 1.83 L4.68 1.96 L3.43 3.03 L3.81 4.64 L2.40 3.78 L0.99 4.64 L1.37 3.03 L0.12 1.96 L1.77 1.83 Z" fill="#f7b84b"/></svg>
<svg class="b" style="left:729.6px;top:499.7px;" width="4.8" height="4.8" viewBox="0 0 4.8 4.8"><path d="M2.40 0.30 L3.03 1.83 L4.68 1.96 L3.43 3.03 L3.81 4.64 L2.40 3.78 L0.99 4.64 L1.37 3.03 L0.12 1.96 L1.77 1.83 Z" fill="#f7b84b"/></svg>
<svg class="b" style="left:735.8px;top:499.7px;" width="4.8" height="4.8" viewBox="0 0 4.8 4.8"><path d="M2.40 0.30 L3.03 1.83 L4.68 1.96 L3.43 3.03 L3.81 4.64 L2.40 3.78 L0.99 4.64 L1.37 3.03 L0.12 1.96 L1.77 1.83 Z" fill="#f7b84b"/></svg>
<svg class="b" style="left:742.0px;top:499.7px;" width="4.8" height="4.8" viewBox="0 0 4.8 4.8"><path d="M2.40 0.30 L3.03 1.83 L4.68 1.96 L3.43 3.03 L3.81 4.64 L2.40 3.78 L0.99 4.64 L1.37 3.03 L0.12 1.96 L1.77 1.83 Z" fill="#f7b84b"/></svg>
<svg class="b" style="left:748.1999999999999px;top:499.7px;" width="4.8" height="4.8" viewBox="0 0 4.8 4.8"><defs><clipPath id="hc74814997"><rect x="0" y="0" width="2.4" height="4.8"/></clipPath></defs><path d="M2.40 0.30 L3.03 1.83 L4.68 1.96 L3.43 3.03 L3.81 4.64 L2.40 3.78 L0.99 4.64 L1.37 3.03 L0.12 1.96 L1.77 1.83 Z" fill="none" stroke="#f7b84b" stroke-width="0.6"/><path d="M2.40 0.30 L3.03 1.83 L4.68 1.96 L3.43 3.03 L3.81 4.64 L2.40 3.78 L0.99 4.64 L1.37 3.03 L0.12 1.96 L1.77 1.83 Z" fill="#f7b84b" clip-path="url(#hc74814997)"/></svg>
<div class="t" id="t82" style="top:510.8px;font-size:5.6px;color:#878a99;letter-spacing:0.264px;right:13.299999999999955px;margin-right:-0.264px;">- by <i>Henry Baird</i></div>
<div class="t" id="t83" style="top:540.7px;font-size:5.0px;color:#495057;-webkit-text-stroke-width:0.16px;letter-spacing:0.129px;left:689px;">CUSTOMER REVIEWS</div>
<div class="b" style="left:689.3px;top:551px;width:104px;height:18.3px;background:#f3f6f9;border-radius:1.7px;"></div>
<svg class="b" style="left:696.0px;top:556.3px;" width="7.4" height="7.4" viewBox="0 0 7.4 7.4"><path d="M3.70 0.30 L4.68 2.65 L7.22 2.86 L5.28 4.51 L5.87 6.99 L3.70 5.67 L1.53 6.99 L2.12 4.51 L0.18 2.86 L2.72 2.65 Z" fill="#f7b84b"/></svg>
<svg class="b" style="left:704.4px;top:556.3px;" width="7.4" height="7.4" viewBox="0 0 7.4 7.4"><path d="M3.70 0.30 L4.68 2.65 L7.22 2.86 L5.28 4.51 L5.87 6.99 L3.70 5.67 L1.53 6.99 L2.12 4.51 L0.18 2.86 L2.72 2.65 Z" fill="#f7b84b"/></svg>
<svg class="b" style="left:712.8px;top:556.3px;" width="7.4" height="7.4" viewBox="0 0 7.4 7.4"><path d="M3.70 0.30 L4.68 2.65 L7.22 2.86 L5.28 4.51 L5.87 6.99 L3.70 5.67 L1.53 6.99 L2.12 4.51 L0.18 2.86 L2.72 2.65 Z" fill="#f7b84b"/></svg>
<svg class="b" style="left:721.2px;top:556.3px;" width="7.4" height="7.4" viewBox="0 0 7.4 7.4"><path d="M3.70 0.30 L4.68 2.65 L7.22 2.86 L5.28 4.51 L5.87 6.99 L3.70 5.67 L1.53 6.99 L2.12 4.51 L0.18 2.86 L2.72 2.65 Z" fill="#f7b84b"/></svg>
<svg class="b" style="left:729.6px;top:556.3px;" width="7.4" height="7.4" viewBox="0 0 7.4 7.4"><defs><clipPath id="hc72965563"><rect x="0" y="0" width="3.7" height="7.4"/></clipPath></defs><path d="M3.70 0.30 L4.68 2.65 L7.22 2.86 L5.28 4.51 L5.87 6.99 L3.70 5.67 L1.53 6.99 L2.12 4.51 L0.18 2.86 L2.72 2.65 Z" fill="none" stroke="#f7b84b" stroke-width="0.6"/><path d="M3.70 0.30 L4.68 2.65 L7.22 2.86 L5.28 4.51 L5.87 6.99 L3.70 5.67 L1.53 6.99 L2.12 4.51 L0.18 2.86 L2.72 2.65 Z" fill="#f7b84b" clip-path="url(#hc72965563)"/></svg>
<div class="t" id="t84" style="top:560.2px;font-size:5.6px;color:#495057;font-weight:500;-webkit-text-stroke-width:0.08px;letter-spacing:0.227px;right:13.5px;margin-right:-0.227px;">4.5 out of 5</div>
<div class="t" id="t85" style="top:576.8px;font-size:5.6px;color:#878a99;letter-spacing:0.262px;left:741.431px;transform:translateX(-50%);">Total 5.50k reviews</div>
<div class="t" id="t86" style="top:592.4px;font-size:5.6px;color:#495057;letter-spacing:0.400px;left:690.7px;">5 star</div>
<div class="b" style="left:712.7px;top:591.3px;width:59px;height:2.2px;background:#eef0f4;border-radius:1.1px;"></div>
<div class="b" style="left:712.7px;top:591.3px;width:29.6px;height:2.2px;background:#0ab39c;border-radius:1.1px;"></div>
<div class="t" id="t87" style="top:592.4px;font-size:5.6px;color:#495057;letter-spacing:0.316px;right:8.299999999999955px;margin-right:-0.316px;">2758</div>
<div class="t" id="t88" style="top:61px;font-size:7.0px;color:#495057;font-weight:500;-webkit-text-stroke-width:0.08px;letter-spacing:0.280px;left:115px;">Good Morning, Anna!</div>
<div class="t" id="t89" style="top:70.3px;font-size:5.7px;color:#878a99;letter-spacing:0.208px;left:115px;">Here&#x27;s what&#x27;s happening with your store today.</div>
<div class="b" style="left:481.8px;top:58px;width:105.7px;height:15.7px;background:#fff;border-radius:1.7px;"></div>
<div class="t" id="t90" style="top:65.9px;font-size:5.6px;color:#495057;letter-spacing:0.001px;left:487.5px;">01 Jan, 2022 to 31 Jan, 2022</div>
<div class="b" style="left:570px;top:58px;width:17.5px;height:15.7px;background:#405189;border-radius:0px;border-radius:0 1.7px 1.7px 0"></div>
<svg class="b" style="left:575.8px;top:62.6px;" width="6" height="6.2" viewBox="0 0 6 6.2"><g fill="#fff"><rect x="0.5" y="1" width="5" height="4.8" rx="0.6"/></g><rect x="1.3" y="2.6" width="3.4" height="2.5" fill="#405189"/><rect x="1.8" y="3.4" width="2.4" height="1" fill="#fff"/></svg>
<div class="b" style="left:594.5px;top:58px;width:55.5px;height:15.7px;background:#d9efee;border-radius:1.7px;"></div>
<svg class="b" style="left:600.8px;top:62.9px;" width="5.4" height="5.4" viewBox="0 0 5.4 5.4"><g fill="none" stroke="#0ab39c" stroke-width="0.6"><circle cx="2.7" cy="2.7" r="2.2"/><path d="M2.7 1.6 V3.8 M1.6 2.7 H3.8"/></g></svg>
<div class="t" id="t91" style="top:65.5px;font-size:5.6px;color:#0ab39c;font-weight:500;letter-spacing:0.220px;left:610px;">Add Product</div>
<div class="b" style="left:656.8px;top:58px;width:15.7px;height:15.7px;background:#dcecf7;border-radius:1.7px;"></div>
<svg class="b" style="left:661.6px;top:63.6px;" width="6.5" height="4.4" viewBox="0 0 6.5 4.4"><path d="M0.4 2.4 H1.6 L2.5 0.8 L3.8 3.8 L4.6 2.4 H6" fill="none" stroke="#3a8fd0" stroke-width="0.6"/></svg>
<div class="b" style="left:115.0px;top:83.2px;width:131.75px;height:60.8px;background:#fff;border-radius:1.7px;box-shadow:0 0.4px 0.9px rgba(56,65,74,.15)"></div>
<div class="t" id="t92" style="top:94px;font-size:5.1px;color:#878a99;letter-spacing:0.094px;left:122.0px;">TOTAL EARNINGS</div>
<div class="t" id="t93" style="top:93.7px;font-size:5.7px;color:#0ab39c;-webkit-text-stroke-width:0.08px;letter-spacing:-0.029px;right:560.0px;margin-right:0.029px;">+16.24 %</div>
<div class="t" id="t94" style="top:113.6px;font-size:9.2px;color:#495057;-webkit-text-stroke-width:0.06px;letter-spacing:0.298px;left:122.0px;">$559.25k</div>
<div class="t" id="t95" style="top:133.2px;font-size:5.6px;color:#495057;text-decoration:underline;text-underline-offset:0.2px;text-decoration-thickness:0.45px;text-decoration-color:rgba(73,80,87,.5);letter-spacing:0.264px;left:122.0px;">View net earnings</div>
<div class="b" style="left:220.2px;top:117.2px;width:19.8px;height:19.8px;background:#d3f1ed;border-radius:1.7px;"></div>
<svg class="b" style="left:225.6px;top:122.6px;" width="9" height="9" viewBox="0 0 9 9"><g fill="none" stroke="#0ab39c" stroke-width="1"><circle cx="4.5" cy="4.5" r="3.7"/><path d="M5.8 3.2 Q5.4 2.6 4.5 2.6 Q3.3 2.6 3.3 3.5 Q3.3 4.3 4.5 4.5 Q5.7 4.7 5.7 5.5 Q5.7 6.4 4.5 6.4 Q3.6 6.4 3.2 5.8 M4.5 1.8 V2.6 M4.5 6.4 V7.2" stroke-width="0.7"/></g></svg>
<div class="b" style="left:256.75px;top:83.2px;width:131.75px;height:60.8px;background:#fff;border-radius:1.7px;box-shadow:0 0.4px 0.9px rgba(56,65,74,.15)"></div>
<div class="t" id="t96" style="top:94px;font-size:5.1px;color:#878a99;letter-spacing:-0.239px;left:263.75px;">ORDERS</div>
<div class="t" id="t97" style="top:93.7px;font-size:5.7px;color:#f06548;-webkit-text-stroke-width:0.08px;letter-spacing:0.282px;right:418.25px;margin-right:-0.282px;">-3.57 %</div>
<div class="t" id="t98" style="top:113.6px;font-size:9.2px;color:#495057;-webkit-text-stroke-width:0.06px;letter-spacing:0.318px;left:263.75px;">36,894</div>
<div class="t" id="t99" style="top:133.2px;font-size:5.6px;color:#495057;text-decoration:underline;text-underline-offset:0.2px;text-decoration-thickness:0.45px;text-decoration-color:rgba(73,80,87,.5);letter-spacing:0.200px;left:263.75px;">View all orders</div>
<div class="b" style="left:361.95px;top:117.2px;width:19.8px;height:19.8px;background:#d9ebf7;border-radius:1.7px;"></div>
<svg class="b" style="left:367.35px;top:122.6px;" width="9" height="9" viewBox="0 0 9 9"><g fill="none" stroke="#299cdb" stroke-width="1" stroke-linejoin="round"><rect x="1.2" y="3.4" width="6.6" height="4.6" rx="0.6"/><path d="M3 3.4 V2.6 A1.5 1.5 0 0 1 6 2.6 V3.4"/></g></svg>
<div class="b" style="left:398.5px;top:83.2px;width:131.75px;height:60.8px;background:#fff;border-radius:1.7px;box-shadow:0 0.4px 0.9px rgba(56,65,74,.15)"></div>
<div class="t" id="t100" style="top:94px;font-size:5.1px;color:#878a99;letter-spacing:0.043px;left:405.5px;">CUSTOMERS</div>
<div class="t" id="t101" style="top:93.7px;font-size:5.7px;color:#0ab39c;-webkit-text-stroke-width:0.08px;letter-spacing:0.157px;right:276.5px;margin-right:-0.157px;">+29.08 %</div>
<div class="t" id="t102" style="top:113.6px;font-size:9.2px;color:#495057;-webkit-text-stroke-width:0.06px;letter-spacing:0.289px;left:405.5px;">183.35M</div>
<div class="t" id="t103" style="top:133.2px;font-size:5.6px;color:#495057;text-decoration:underline;text-underline-offset:0.2px;text-decoration-thickness:0.45px;text-decoration-color:rgba(73,80,87,.5);letter-spacing:0.181px;left:405.5px;">See details</div>
<div class="b" style="left:503.7px;top:117.2px;width:19.8px;height:19.8px;background:#fdf0db;border-radius:1.7px;"></div>
<svg class="b" style="left:509.1px;top:122.6px;" width="9" height="9" viewBox="0 0 9 9"><g fill="none" stroke="#f7b84b" stroke-width="1"><circle cx="4.5" cy="4.5" r="3.7"/><circle cx="4.5" cy="3.7" r="1.1"/><path d="M2.6 6.8 Q4.5 4.6 6.4 6.8"/></g></svg>
<div class="b" style="left:540.25px;top:83.2px;width:131.75px;height:60.8px;background:#fff;border-radius:1.7px;box-shadow:0 0.4px 0.9px rgba(56,65,74,.15)"></div>
<div class="t" id="t104" style="top:94px;font-size:5.1px;color:#878a99;letter-spacing:0.106px;left:547.25px;">MY BALANCE</div>
<div class="t" id="t105" style="top:93.7px;font-size:5.7px;color:#878a99;-webkit-text-stroke-width:0.08px;letter-spacing:0.195px;right:134.75px;margin-right:-0.195px;">+0.00 %</div>
<div class="t" id="t106" style="top:113.6px;font-size:9.2px;color:#495057;-webkit-text-stroke-width:0.06px;letter-spacing:0.312px;left:547.25px;">$165.89k</div>
<div class="t" id="t107" style="top:133.2px;font-size:5.6px;color:#495057;text-decoration:underline;text-underline-offset:0.2px;text-decoration-thickness:0.45px;text-decoration-color:rgba(73,80,87,.5);letter-spacing:0.334px;left:547.25px;">Withdraw money</div>
<div class="b" style="left:645.45px;top:117.2px;width:19.8px;height:19.8px;background:#dfe2eb;border-radius:1.7px;"></div>
<svg class="b" style="left:650.85px;top:122.6px;" width="9" height="9" viewBox="0 0 9 9"><g fill="none" stroke="#405189" stroke-width="1"><rect x="1" y="1.6" width="7" height="5.8" rx="0.8"/><path d="M1 3.3 H8"/><rect x="5" y="4.4" width="1.8" height="1.2" fill="#405189" stroke="none"/></g></svg>
<svg class="b" style="left:209.8px;top:91.9px;" width="3.6" height="3.6" viewBox="0 0 3.6 3.6"><path d="M0.5 3.1 L3 0.6 M1 0.6 H3 V2.6" stroke="#0ab39c" stroke-width="0.6" fill="none"/></svg>
<svg class="b" style="left:354.75px;top:91.9px;" width="3.6" height="3.6" viewBox="0 0 3.6 3.6"><path d="M0.5 0.5 L3 3 M1 3 H3 V1" stroke="#f06548" stroke-width="0.6" fill="none"/></svg>
<svg class="b" style="left:491.6px;top:91.9px;" width="3.6" height="3.6" viewBox="0 0 3.6 3.6"><path d="M0.5 3.1 L3 0.6 M1 0.6 H3 V2.6" stroke="#0ab39c" stroke-width="0.6" fill="none"/></svg>
<div class="b" style="left:115px;top:154.2px;width:368px;height:216.2px;background:#fff;border-radius:1.7px;box-shadow:0 0.4px 0.9px rgba(56,65,74,.15)"></div>
<div class="t" id="t108" style="top:166.4px;font-size:7.0px;color:#495057;font-weight:500;-webkit-text-stroke-width:0.08px;letter-spacing:0.195px;left:122px;">Revenue</div>
<div class="b" style="left:417.2px;top:161px;width:14.7px;height:10.8px;background:#e8edfb;border-radius:1.5px;"></div>
<div class="t" id="t109" style="top:166.7px;font-size:4.5px;color:#5467c4;letter-spacing:0.050px;left:424.575px;transform:translateX(-50%);">ALL</div>
<div class="b" style="left:434px;top:161px;width:12.8px;height:10.8px;background:#e8edfb;border-radius:1.5px;"></div>
<div class="t" id="t110" style="top:166.7px;font-size:4.5px;color:#5467c4;letter-spacing:0.050px;left:440.425px;transform:translateX(-50%);">1M</div>
<div class="b" style="left:448.6px;top:161px;width:14.3px;height:10.8px;background:#e8edfb;border-radius:1.5px;"></div>
<div class="t" id="t111" style="top:166.7px;font-size:4.5px;color:#5467c4;letter-spacing:0.050px;left:455.775px;transform:translateX(-50%);">6M</div>
<div class="b" style="left:465px;top:161px;width:11px;height:10.8px;background:#e9eaed;border-radius:1.5px;"></div>
<div class="t" id="t112" style="top:166.7px;font-size:4.5px;color:#6c7080;letter-spacing:0.050px;left:470.525px;transform:translateX(-50%);">1Y</div>
<div class="b" style="left:115px;top:179.4px;width:368px;height:0;border-top:0.5px dotted #edeff2"></div>
<div class="b" style="left:115px;top:179.6px;width:368px;height:31.6px;background:#fcfcfd;border-radius:0px;"></div>
<div class="b" style="left:115px;top:211.2px;width:368px;height:0;border-top:0.5px dotted #edeff2"></div>
<div class="b" style="left:206.6px;top:179.6px;width:0;height:31.599999999999994px;border-left:0.5px dotted #edeff2"></div>
<div class="b" style="left:298.6px;top:179.6px;width:0;height:31.599999999999994px;border-left:0.5px dotted #edeff2"></div>
<div class="b" style="left:390.6px;top:179.6px;width:0;height:31.599999999999994px;border-left:0.5px dotted #edeff2"></div>
<div class="t" id="t113" style="top:189.9px;font-size:7.0px;color:#495057;-webkit-text-stroke-width:0.08px;letter-spacing:0.192px;left:161.096px;transform:translateX(-50%);">7,585</div>
<div class="t" id="t114" style="top:200.3px;font-size:5.7px;color:#878a99;letter-spacing:0.222px;left:161.111px;transform:translateX(-50%);">Orders</div>
<div class="t" id="t115" style="top:189.9px;font-size:7.0px;color:#495057;-webkit-text-stroke-width:0.08px;letter-spacing:0.446px;left:253.223px;transform:translateX(-50%);">$22.89k</div>
<div class="t" id="t116" style="top:200.3px;font-size:5.7px;color:#878a99;letter-spacing:0.192px;left:253.096px;transform:translateX(-50%);">Earnings</div>
<div class="t" id="t117" style="top:189.9px;font-size:7.0px;color:#495057;-webkit-text-stroke-width:0.08px;letter-spacing:0.306px;left:345.153px;transform:translateX(-50%);">367</div>
<div class="t" id="t118" style="top:200.3px;font-size:5.7px;color:#878a99;letter-spacing:0.269px;left:345.134px;transform:translateX(-50%);">Refunds</div>
<div class="t" id="t119" style="top:189.9px;font-size:7.0px;color:#0ab39c;-webkit-text-stroke-width:0.08px;letter-spacing:-0.350px;left:436.825px;transform:translateX(-50%);">18.92%</div>
<div class="t" id="t120" style="top:200.3px;font-size:5.7px;color:#878a99;letter-spacing:0.231px;left:437.115px;transform:translateX(-50%);">Conversation Ratio</div>
<div class="t" id="t121" style="top:222.6px;font-size:4.9px;color:#a0a6b4;letter-spacing:0.120px;right:663.7px;margin-right:-0.120px;">120.00</div>
<div class="t" id="t122" style="top:250.29999999999998px;font-size:4.9px;color:#a0a6b4;letter-spacing:0.120px;right:663.7px;margin-right:-0.120px;">90.00</div>
<div class="t" id="t123" style="top:278.0px;font-size:4.9px;color:#a0a6b4;letter-spacing:0.120px;right:663.7px;margin-right:-0.120px;">60.00</div>
<div class="t" id="t124" style="top:305.7px;font-size:4.9px;color:#a0a6b4;letter-spacing:0.120px;right:663.7px;margin-right:-0.120px;">30.00</div>
<div class="t" id="t125" style="top:333.4px;font-size:4.9px;color:#a0a6b4;letter-spacing:0.120px;right:663.7px;margin-right:-0.120px;">0.00</div>
<svg class="b" style="left:0px;top:0px;" width="800" height="600" viewBox="0 0 800 600"><line x1="149.50" y1="220" x2="149.50" y2="333.4" stroke="#f1f1f3" stroke-width="0.5"/><line x1="178.78" y1="220" x2="178.78" y2="333.4" stroke="#f1f1f3" stroke-width="0.5"/><line x1="208.06" y1="220" x2="208.06" y2="333.4" stroke="#f1f1f3" stroke-width="0.5"/><line x1="237.34" y1="220" x2="237.34" y2="333.4" stroke="#f1f1f3" stroke-width="0.5"/><line x1="266.62" y1="220" x2="266.62" y2="333.4" stroke="#f1f1f3" stroke-width="0.5"/><line x1="295.90" y1="220" x2="295.90" y2="333.4" stroke="#f1f1f3" stroke-width="0.5"/><line x1="325.18" y1="220" x2="325.18" y2="333.4" stroke="#f1f1f3" stroke-width="0.5"/><line x1="354.46" y1="220" x2="354.46" y2="333.4" stroke="#f1f1f3" stroke-width="0.5"/><line x1="383.74" y1="220" x2="383.74" y2="333.4" stroke="#f1f1f3" stroke-width="0.5"/><line x1="413.02" y1="220" x2="413.02" y2="333.4" stroke="#f1f1f3" stroke-width="0.5"/><line x1="442.30" y1="220" x2="442.30" y2="333.4" stroke="#f1f1f3" stroke-width="0.5"/><line x1="471.58" y1="220" x2="471.58" y2="333.4" stroke="#f1f1f3" stroke-width="0.5"/><path d="M149.50 302.36 L178.78 274.05 L208.06 291.40 L237.34 271.32 L266.62 288.66 L295.90 277.71 L325.18 295.05 L354.46 293.23 L383.74 262.19 L413.02 285.92 L442.30 275.88 L471.58 272.23 L471.58 333.4 L149.50 333.4 Z" fill="#405189" fill-opacity="0.1"/><rect x="144.85" y="251.91" width="9.3" height="81.49" fill="#0ab39c" fill-opacity="0.88"/><rect x="174.13" y="243.40" width="9.3" height="90.00" fill="#0ab39c" fill-opacity="0.88"/><rect x="203.41" y="270.64" width="9.3" height="62.76" fill="#0ab39c" fill-opacity="0.88"/><rect x="232.69" y="234.00" width="9.3" height="99.40" fill="#0ab39c" fill-opacity="0.88"/><rect x="261.97" y="262.61" width="9.3" height="70.79" fill="#0ab39c" fill-opacity="0.88"/><rect x="291.25" y="256.68" width="9.3" height="76.72" fill="#0ab39c" fill-opacity="0.88"/><rect x="320.53" y="286.62" width="9.3" height="46.78" fill="#0ab39c" fill-opacity="0.88"/><rect x="349.81" y="307.32" width="9.3" height="26.08" fill="#0ab39c" fill-opacity="0.88"/><rect x="379.09" y="248.88" width="9.3" height="84.52" fill="#0ab39c" fill-opacity="0.88"/><rect x="408.37" y="294.73" width="9.3" height="38.67" fill="#0ab39c" fill-opacity="0.88"/><rect x="437.65" y="252.59" width="9.3" height="80.81" fill="#0ab39c" fill-opacity="0.88"/><rect x="466.93" y="300.01" width="9.3" height="33.39" fill="#0ab39c" fill-opacity="0.88"/><path d="M149.50 302.36 L178.78 274.05 L208.06 291.40 L237.34 271.32 L266.62 288.66 L295.90 277.71 L325.18 295.05 L354.46 293.23 L383.74 262.19 L413.02 285.92 L442.30 275.88 L471.58 272.23" fill="none" stroke="#405189" stroke-width="0.95"/><path d="M149.50 326.10 C154.62 325.46 168.53 322.28 178.78 322.44 C189.03 322.60 197.81 327.81 208.06 327.01 C218.31 326.21 227.09 320.12 237.34 317.88 C247.59 315.64 256.37 313.27 266.62 314.23 C276.87 315.19 285.65 320.80 295.90 323.36 C306.15 325.91 314.93 328.52 325.18 328.83 C335.43 329.15 344.21 325.50 354.46 325.18 C364.71 324.86 373.49 330.20 383.74 327.01 C393.99 323.81 402.77 307.72 413.02 306.92 C423.27 306.12 432.05 323.40 442.30 322.44 C452.55 321.49 466.46 305.12 471.58 301.44" fill="none" stroke="#f06548" stroke-width="0.9" stroke-dasharray="3.2 2.6"/></svg>
<div class="t" id="t126" style="top:342.7px;font-size:5.1px;color:#a0a6b4;letter-spacing:0.150px;left:149.575px;transform:translateX(-50%);">Jan</div>
<div class="t" id="t127" style="top:342.7px;font-size:5.1px;color:#a0a6b4;letter-spacing:0.150px;left:178.855px;transform:translateX(-50%);">Feb</div>
<div class="t" id="t128" style="top:342.7px;font-size:5.1px;color:#a0a6b4;letter-spacing:0.150px;left:208.135px;transform:translateX(-50%);">Mar</div>
<div class="t" id="t129" style="top:342.7px;font-size:5.1px;color:#a0a6b4;letter-spacing:0.150px;left:237.415px;transform:translateX(-50%);">Apr</div>
<div class="t" id="t130" style="top:342.7px;font-size:5.1px;color:#a0a6b4;letter-spacing:0.150px;left:266.695px;transform:translateX(-50%);">May</div>
<div class="t" id="t131" style="top:342.7px;font-size:5.1px;color:#a0a6b4;letter-spacing:0.150px;left:295.975px;transform:translateX(-50%);">Jun</div>
<div class="t" id="t132" style="top:342.7px;font-size:5.1px;color:#a0a6b4;letter-spacing:0.150px;left:325.255px;transform:translateX(-50%);">Jul</div>
<div class="t" id="t133" style="top:342.7px;font-size:5.1px;color:#a0a6b4;letter-spacing:0.150px;left:354.535px;transform:translateX(-50%);">Aug</div>
<div class="t" id="t134" style="top:342.7px;font-size:5.1px;color:#a0a6b4;letter-spacing:0.150px;left:383.815px;transform:translateX(-50%);">Sep</div>
<div class="t" id="t135" style="top:342.7px;font-size:5.1px;color:#a0a6b4;letter-spacing:0.150px;left:413.095px;transform:translateX(-50%);">Oct</div>
<div class="t" id="t136" style="top:342.7px;font-size:5.1px;color:#a0a6b4;letter-spacing:0.150px;left:442.375px;transform:translateX(-50%);">Nov</div>
<div class="t" id="t137" style="top:342.7px;font-size:5.1px;color:#a0a6b4;letter-spacing:0.150px;left:471.655px;transform:translateX(-50%);">Dec</div>
<svg class="b" style="left:255.3px;top:356.2px;" width="4" height="4" viewBox="0 0 4 4"><circle cx="2" cy="2" r="1.85" fill="#405189"/></svg>
<div class="t" id="t138" style="top:358.1px;font-size:5.4px;color:#878a99;letter-spacing:0.223px;left:261px;">Orders</div>
<svg class="b" style="left:287.6px;top:356.2px;" width="4" height="4" viewBox="0 0 4 4"><circle cx="2" cy="2" r="1.85" fill="#0ab39c"/></svg>
<div class="t" id="t139" style="top:358.1px;font-size:5.4px;color:#878a99;letter-spacing:0.217px;left:292.9px;">Earnings</div>
<svg class="b" style="left:323.2px;top:356.2px;" width="4" height="4" viewBox="0 0 4 4"><circle cx="2" cy="2" r="1.85" fill="#f06548"/></svg>
<div class="t" id="t140" style="top:358.1px;font-size:5.4px;color:#878a99;letter-spacing:0.287px;left:329.5px;">Refunds</div>
<div class="b" style="left:493.2px;top:154.4px;width:179px;height:215.6px;background:#fff;border-radius:1.7px;box-shadow:0 0.4px 0.9px rgba(56,65,74,.15)"></div>
<div class="t" id="t141" style="top:166.4px;font-size:7.0px;color:#495057;font-weight:500;-webkit-text-stroke-width:0.08px;letter-spacing:0.214px;left:500px;">Sales by Locations</div>
<div class="b" style="left:626.6px;top:161px;width:39.2px;height:10.8px;background:#e9ebf1;border-radius:1.5px;"></div>
<div class="t" id="t142" style="top:167.1px;font-size:4.9px;color:#6d7181;letter-spacing:0.109px;left:630.2px;">Export Report</div>
<div class="b" style="left:493.2px;top:179px;width:179.00000000000006px;height:0;border-top:0.5px solid #eef0f2"></div>
<svg class="b" style="left:0px;top:0px;" width="800" height="600" viewBox="0 0 800 600"><path d="M500.90 223.40 L503.80 219.20 L511.40 218.00 L519.10 218.60 L522.00 213.80 L526.80 208.00 L534.50 202.30 L543.10 199.40 L545.00 210.00 L542.10 217.60 L546.90 223.40 L551.70 235.90 L548.90 242.60 L544.10 245.50 L540.60 250.30 L538.30 257.00 L535.40 254.10 L530.60 254.10 L531.60 258.90 L539.30 262.70 L542.10 264.70 L537.30 263.70 L528.70 257.90 L523.00 249.30 L519.10 238.70 L516.20 232.00 L509.50 229.50 L502.80 226.30 Z" fill="#f1f3f7" stroke="#e8ebf0" stroke-width="0.3" stroke-linejoin="round"/><path d="M523.00 206.10 L530.60 198.40 L542.10 195.60 L544.10 203.20 L536.40 210.00 L526.80 213.80 Z" fill="#f1f3f7" stroke="#e8ebf0" stroke-width="0.3" stroke-linejoin="round"/><path d="M545.00 196.50 L553.70 190.80 L567.10 189.80 L571.90 196.50 L568.10 208.00 L562.30 217.60 L557.50 229.10 L553.70 223.40 L550.80 211.90 L546.00 204.20 Z" fill="#f1f3f7" stroke="#e8ebf0" stroke-width="0.3" stroke-linejoin="round"/><path d="M541.20 262.70 L546.90 260.80 L554.60 264.70 L561.30 268.50 L558.50 277.10 L552.70 282.90 L548.30 291.50 L544.40 296.30 L542.50 288.60 L541.80 277.10 L539.30 269.50 Z" fill="#f1f3f7" stroke="#e8ebf0" stroke-width="0.3" stroke-linejoin="round"/><path d="M570.80 249.70 L578.30 247.50 L590.80 247.20 L595.80 253.30 L601.70 260.00 L597.50 266.70 L593.30 276.70 L588.30 281.70 L585.00 280.00 L582.50 266.70 L575.80 264.20 L570.30 257.50 Z" fill="#f1f3f7" stroke="#e8ebf0" stroke-width="0.3" stroke-linejoin="round"/><path d="M572.50 247.00 L576.00 242.00 L580.00 238.00 L582.00 232.00 L581.70 226.70 L588.30 220.00 L593.00 222.00 L592.30 213.80 L603.80 211.50 L613.40 208.00 L624.90 206.50 L638.30 209.60 L651.80 213.80 L663.30 222.40 L659.50 226.30 L651.80 230.10 L653.70 235.90 L647.90 235.30 L640.30 242.60 L638.30 249.30 L632.60 255.10 L629.70 260.80 L623.90 262.70 L620.70 257.90 L614.30 260.80 L609.50 252.20 L603.80 248.30 L600.00 255.10 L596.10 251.20 L593.20 246.40 L586.50 243.50 L582.70 242.60 L578.80 244.50 Z" fill="#f1f3f7" stroke="#e8ebf0" stroke-width="0.3" stroke-linejoin="round"/><path d="M630.70 273.30 L638.30 269.50 L646.00 271.80 L648.90 281.00 L642.20 284.80 L632.60 281.90 Z" fill="#f1f3f7" stroke="#e8ebf0" stroke-width="0.3" stroke-linejoin="round"/><path d="M621.10 265.60 L638.30 269.50 L632.60 271.40 L623.00 268.50 Z" fill="#f1f3f7" stroke="#e8ebf0" stroke-width="0.3" stroke-linejoin="round"/><path d="M649.90 233.90 L652.70 236.80 L651.80 242.60 L648.90 241.60 Z" fill="#f1f3f7" stroke="#e8ebf0" stroke-width="0.3" stroke-linejoin="round"/><path d="M656.60 282.90 L659.50 284.80 L657.50 288.60 Z" fill="#f1f3f7" stroke="#e8ebf0" stroke-width="0.3" stroke-linejoin="round"/><path d="M599.20 270.00 L601.00 272.00 L600.00 277.00 L598.00 276.00 Z" fill="#f1f3f7" stroke="#e8ebf0" stroke-width="0.3" stroke-linejoin="round"/><path d="M566.70 225.00 L571.70 225.50 L570.00 227.50 L566.00 227.50 Z" fill="#f1f3f7" stroke="#e8ebf0" stroke-width="0.3" stroke-linejoin="round"/><path d="M576.00 232.00 L579.00 230.00 L580.00 236.00 L577.00 237.00 Z" fill="#f1f3f7" stroke="#e8ebf0" stroke-width="0.3" stroke-linejoin="round"/></svg>
<svg class="b" style="left:554.7px;top:214.4px;" width="6" height="6" viewBox="0 0 6 6"><circle cx="3" cy="3" r="2.45" fill="#0ab39c"/></svg>
<div class="t" id="t143" style="top:217.4px;font-size:5.6px;color:#495057;letter-spacing:0.447px;left:562.5px;">Greenland</div>
<svg class="b" style="left:525px;top:231px;" width="6" height="6" viewBox="0 0 6 6"><circle cx="3" cy="3" r="2.45" fill="#0ab39c"/></svg>
<div class="t" id="t144" style="top:234px;font-size:5.6px;color:#495057;letter-spacing:0.578px;left:532.8px;">Canada</div>
<svg class="b" style="left:622.9px;top:226.2px;" width="6" height="6" viewBox="0 0 6 6"><circle cx="3" cy="3" r="2.45" fill="#0ab39c"/></svg>
<div class="t" id="t145" style="top:229.2px;font-size:5.6px;color:#495057;letter-spacing:0.218px;left:630.6999999999999px;">Russia</div>
<svg class="b" style="left:590.3px;top:247.1px;" width="6" height="6" viewBox="0 0 6 6"><circle cx="3" cy="3" r="2.45" fill="#405189"/></svg>
<div class="t" id="t146" style="top:250.1px;font-size:5.6px;color:#495057;letter-spacing:0.236px;left:598.0999999999999px;">Palestine</div>
<div class="t" id="t147" style="top:308.2px;font-size:5.6px;color:#495057;letter-spacing:0.698px;left:503px;">Canada</div>
<div class="t" id="t148" style="top:308.2px;font-size:5.4px;color:#495057;letter-spacing:-0.298px;right:137.79999999999995px;margin-right:0.298px;">75%</div>
<div class="b" style="left:503px;top:315.5px;width:159.2px;height:2.8px;background:#eef0f4;border-radius:1.4px;"></div>
<div class="b" style="left:503px;top:315.5px;width:119.39999999999999px;height:2.8px;background:#405189;border-radius:1.4px;background-image:repeating-linear-gradient(45deg,rgba(255,255,255,.18) 0 1px,transparent 1px 2px)"></div>
<div class="t" id="t149" style="top:329.2px;font-size:5.6px;color:#495057;letter-spacing:0.359px;left:503px;">Greenland</div>
<div class="t" id="t150" style="top:329.2px;font-size:5.4px;color:#495057;letter-spacing:-0.298px;right:137.79999999999995px;margin-right:0.298px;">47%</div>
<div class="b" style="left:503px;top:336.5px;width:159.2px;height:2.8px;background:#eef0f4;border-radius:1.4px;"></div>
<div class="b" style="left:503px;top:336.5px;width:74.82399999999998px;height:2.8px;background:#405189;border-radius:1.4px;background-image:repeating-linear-gradient(45deg,rgba(255,255,255,.18) 0 1px,transparent 1px 2px)"></div>
<div class="t" id="t151" style="top:350px;font-size:5.6px;color:#495057;letter-spacing:0.158px;left:503px;">Russia</div>
<div class="t" id="t152" style="top:350px;font-size:5.4px;color:#495057;letter-spacing:-0.298px;right:137.79999999999995px;margin-right:0.298px;">82%</div>
<div class="b" style="left:503px;top:357.20000000000005px;width:159.2px;height:2.8px;background:#eef0f4;border-radius:1.4px;"></div>
<div class="b" style="left:503px;top:357.20000000000005px;width:130.54399999999998px;height:2.8px;background:#405189;border-radius:1.4px;background-image:repeating-linear-gradient(45deg,rgba(255,255,255,.18) 0 1px,transparent 1px 2px)"></div>
<div class="b" style="left:115px;top:380.2px;width:273.3px;height:199.3px;background:#fff;border-radius:1.7px;box-shadow:0 0.4px 0.9px rgba(56,65,74,.15)"></div>
<div class="t" id="t153" style="top:390.8px;font-size:7.0px;color:#495057;font-weight:500;-webkit-text-stroke-width:0.08px;letter-spacing:0.283px;left:122px;">Best Selling Products</div>
<div class="t" id="t154" style="top:391.3px;font-size:5.1px;color:#495057;font-weight:700;letter-spacing:-0.253px;left:334.8px;">SORT BY:</div>
<div class="t" id="t155" style="top:391.2px;font-size:5.8px;color:#878a99;letter-spacing:0.208px;left:358.5px;">Today</div>
<svg class="b" style="left:377.8px;top:390.2px;" width="4" height="2.6" viewBox="0 0 4 2.6"><path d="M0.5 0.4 L2 1.9 L3.5 0.4" fill="#878a99"/></svg>
<div class="b" style="left:115px;top:402.1px;width:273.3px;height:0;border-top:0.5px solid #eef0f2"></div>
<div class="b" style="left:122px;top:407.4px;width:19.8px;height:19.8px;background:#f3f6f9;border-radius:1.7px;"></div>
<svg class="b" style="left:122px;top:407.4px;" width="20" height="20" viewBox="0 0 20 20"><path d="M7.2 3.4 Q10 4.6 12.8 3.4 L15.6 4.8 L16.4 9.6 L14.2 10 V17.6 H6 V10 L3.8 9.6 L4.5 4.8 Z" fill="#8e2d2d"/></svg>
<div class="t" id="t156" style="top:413.1px;font-size:6.3px;color:#495057;-webkit-text-stroke-width:0.1px;letter-spacing:0.184px;left:145.6px;">Branded T-Shirts</div>
<div class="t" id="t157" style="top:422.4px;font-size:5.6px;color:#878a99;letter-spacing:-0.087px;left:145.6px;">24 Apr 2021</div>
<div class="t" id="t158" style="top:413.1px;font-size:6.5px;color:#495057;letter-spacing:0.002px;left:229.3px;">$29.00</div>
<div class="t" id="t159" style="top:422.4px;font-size:5.6px;color:#878a99;letter-spacing:0.288px;left:229.3px;">Price</div>
<div class="t" id="t160" style="top:413.1px;font-size:6.5px;color:#495057;letter-spacing:0.266px;left:266px;">62</div>
<div class="t" id="t161" style="top:422.4px;font-size:5.6px;color:#878a99;letter-spacing:0.318px;left:266px;">Orders</div>
<div class="t" id="t162" style="top:413.1px;font-size:6.5px;color:#495057;left:299.4px;">510</div>
<div class="t" id="t163" style="top:422.4px;font-size:5.6px;color:#878a99;letter-spacing:0.325px;left:299.4px;">Stock</div>
<div class="t" id="t164" style="top:413.1px;font-size:6.4px;color:#495057;letter-spacing:-0.120px;left:351.1px;">$1,798</div>
<div class="t" id="t165" style="top:422.4px;font-size:5.6px;color:#878a99;letter-spacing:0.564px;left:351.1px;">Amount</div>
<div class="b" style="left:115px;top:432.35px;width:273.3px;height:0;border-top:0.5px solid #eef0f2"></div>
<div class="b" style="left:122px;top:437.96px;width:19.8px;height:19.8px;background:#f3f6f9;border-radius:1.7px;"></div>
<svg class="b" style="left:122px;top:437.96px;" width="20" height="20" viewBox="0 0 20 20"><path d="M5.2 7.5 Q5.4 6 7 6 H9 V10.4 H5.8 Q5.2 10 5.2 9 Z" fill="#3f4349"/><path d="M9 10.4 V5.2 Q11 3.4 13.6 4.4 Q14.4 7 13.6 10.4 Z" fill="#5a5f66"/><path d="M9.4 5.2 Q11.5 3.8 13.2 4.8 L12.5 6.5 Q11 5.6 9.6 6.4 Z" fill="#f1f1f1"/><path d="M10.6 11 L6.8 17.4 M11 11.2 L11.6 18.6 M11.6 11 L15.4 16.4" stroke="#45403c" stroke-width="0.8"/></svg>
<div class="t" id="t166" style="top:443.66px;font-size:6.3px;color:#495057;-webkit-text-stroke-width:0.1px;letter-spacing:0.161px;left:145.6px;">Bentwood Chair</div>
<div class="t" id="t167" style="top:452.96px;font-size:5.6px;color:#878a99;letter-spacing:-0.142px;left:145.6px;">19 Mar 2021</div>
<div class="t" id="t168" style="top:443.66px;font-size:6.5px;color:#495057;letter-spacing:0.002px;left:229.3px;">$85.20</div>
<div class="t" id="t169" style="top:452.96px;font-size:5.6px;color:#878a99;letter-spacing:0.288px;left:229.3px;">Price</div>
<div class="t" id="t170" style="top:443.66px;font-size:6.5px;color:#495057;letter-spacing:0.266px;left:266px;">35</div>
<div class="t" id="t171" style="top:452.96px;font-size:5.6px;color:#878a99;letter-spacing:0.318px;left:266px;">Orders</div>
<div class="b" style="left:299.7px;top:440.66px;width:32.5px;height:6.6px;background:#fdede9;border-radius:1.2px;"></div>
<div class="t" id="t172" style="top:444.06px;font-size:4.6px;color:#f06548;-webkit-text-stroke-width:0.12px;letter-spacing:0.180px;left:316.090px;transform:translateX(-50%);">Out of stock</div>
<div class="t" id="t173" style="top:452.96px;font-size:5.6px;color:#878a99;letter-spacing:0.325px;left:299.4px;">Stock</div>
<div class="t" id="t174" style="top:443.66px;font-size:6.4px;color:#495057;letter-spacing:-0.120px;left:351.1px;">$2982</div>
<div class="t" id="t175" style="top:452.96px;font-size:5.6px;color:#878a99;letter-spacing:0.564px;left:351.1px;">Amount</div>
<div class="b" style="left:115px;top:462.91px;width:273.3px;height:0;border-top:0.5px solid #eef0f2"></div>
<div class="b" style="left:122px;top:468.52px;width:19.8px;height:19.8px;background:#f3f6f9;border-radius:1.7px;"></div>
<svg class="b" style="left:122px;top:468.52px;" width="20" height="20" viewBox="0 0 20 20"><rect x="8" y="2.8" width="5.6" height="1.5" rx="0.4" fill="#333"/><rect x="8.2" y="4.3" width="5.2" height="9.6" fill="#dfe6ee"/><rect x="9.6" y="5" width="1.4" height="7" fill="#6aa5d8"/><circle cx="7" cy="13.2" r="3.6" fill="#7b3a14"/><circle cx="7" cy="13.2" r="1.3" fill="#f3f6f9"/></svg>
<div class="t" id="t176" style="top:474.22px;font-size:6.3px;color:#495057;-webkit-text-stroke-width:0.1px;letter-spacing:0.062px;left:145.6px;">Borosil Paper Cup</div>
<div class="t" id="t177" style="top:483.52px;font-size:5.6px;color:#878a99;letter-spacing:-0.142px;left:145.6px;">01 Mar 2021</div>
<div class="t" id="t178" style="top:474.22px;font-size:6.5px;color:#495057;letter-spacing:0.002px;left:229.3px;">$14.00</div>
<div class="t" id="t179" style="top:483.52px;font-size:5.6px;color:#878a99;letter-spacing:0.288px;left:229.3px;">Price</div>
<div class="t" id="t180" style="top:474.22px;font-size:6.5px;color:#495057;letter-spacing:0.266px;left:266px;">80</div>
<div class="t" id="t181" style="top:483.52px;font-size:5.6px;color:#878a99;letter-spacing:0.318px;left:266px;">Orders</div>
<div class="t" id="t182" style="top:474.22px;font-size:6.5px;color:#495057;left:299.4px;">749</div>
<div class="t" id="t183" style="top:483.52px;font-size:5.6px;color:#878a99;letter-spacing:0.325px;left:299.4px;">Stock</div>
<div class="t" id="t184" style="top:474.22px;font-size:6.4px;color:#495057;letter-spacing:-0.120px;left:351.1px;">$1120</div>
<div class="t" id="t185" style="top:483.52px;font-size:5.6px;color:#878a99;letter-spacing:0.564px;left:351.1px;">Amount</div>
<div class="b" style="left:115px;top:493.47px;width:273.3px;height:0;border-top:0.5px solid #eef0f2"></div>
<div class="b" style="left:122px;top:499.08px;width:19.8px;height:19.8px;background:#f3f6f9;border-radius:1.7px;"></div>
<svg class="b" style="left:122px;top:499.08px;" width="20" height="20" viewBox="0 0 20 20"><path d="M6 7.6 L8.6 6.6 L10.4 8.4 L8.4 9.6 Z" fill="#2b2b2b"/><path d="M10 9 L13.4 7.4 L15 8.6 L12.4 10.6 Z" fill="#2b2b2b"/><path d="M5.4 9.4 L13.8 9.2 L14.4 10.6 L6 11 Z" fill="#1e1e1e"/><path d="M6.6 11 L5.6 14.8 M8.4 11 L8 15.4 M13.2 10.6 L14 14.6" stroke="#222" stroke-width="0.7"/></svg>
<div class="t" id="t186" style="top:504.78000000000003px;font-size:6.3px;color:#495057;-webkit-text-stroke-width:0.1px;letter-spacing:0.027px;left:145.6px;">One Seater Sofa</div>
<div class="t" id="t187" style="top:514.08px;font-size:5.6px;color:#878a99;letter-spacing:-0.360px;left:145.6px;">11 Feb 2021</div>
<div class="t" id="t188" style="top:504.78000000000003px;font-size:6.5px;color:#495057;letter-spacing:-0.417px;left:229.3px;">$127.50</div>
<div class="t" id="t189" style="top:514.08px;font-size:5.6px;color:#878a99;letter-spacing:0.288px;left:229.3px;">Price</div>
<div class="t" id="t190" style="top:504.78000000000003px;font-size:6.5px;color:#495057;letter-spacing:0.266px;left:266px;">56</div>
<div class="t" id="t191" style="top:514.08px;font-size:5.6px;color:#878a99;letter-spacing:0.318px;left:266px;">Orders</div>
<div class="b" style="left:299.7px;top:501.78000000000003px;width:32.5px;height:6.6px;background:#fdede9;border-radius:1.2px;"></div>
<div class="t" id="t192" style="top:505.18px;font-size:4.6px;color:#f06548;-webkit-text-stroke-width:0.12px;letter-spacing:0.180px;left:316.090px;transform:translateX(-50%);">Out of stock</div>
<div class="t" id="t193" style="top:514.08px;font-size:5.6px;color:#878a99;letter-spacing:0.325px;left:299.4px;">Stock</div>
<div class="t" id="t194" style="top:504.78000000000003px;font-size:6.4px;color:#495057;letter-spacing:-0.120px;left:351.1px;">$7140</div>
<div class="t" id="t195" style="top:514.08px;font-size:5.6px;color:#878a99;letter-spacing:0.564px;left:351.1px;">Amount</div>
<div class="b" style="left:115px;top:524.03px;width:273.3px;height:0;border-top:0.5px solid #eef0f2"></div>
<div class="b" style="left:122px;top:529.64px;width:19.8px;height:19.8px;background:#f3f6f9;border-radius:1.7px;"></div>
<svg class="b" style="left:122px;top:529.64px;" width="20" height="20" viewBox="0 0 20 20"><circle cx="10" cy="10.2" r="5.6" fill="#2f6f8f"/><path d="M4.6 9 Q6 4.6 10.4 4.6 L7 10 Z" fill="#9bd34a"/><path d="M7 7.4 L13.6 10.6 L8.4 14.6 Z" fill="#f2f4f6"/><path d="M11 6 Q14.8 6.6 15.4 10.6 L12.6 9.4 Z" fill="#1b2f4f"/></svg>
<div class="t" id="t196" style="top:535.34px;font-size:6.3px;color:#495057;-webkit-text-stroke-width:0.1px;letter-spacing:0.177px;left:145.6px;">Stillbird Helmet</div>
<div class="t" id="t197" style="top:544.64px;font-size:5.6px;color:#878a99;letter-spacing:-0.190px;left:145.6px;">17 Jan 2021</div>
<div class="t" id="t198" style="top:535.34px;font-size:6.5px;color:#495057;letter-spacing:0.220px;left:229.3px;">$54</div>
<div class="t" id="t199" style="top:544.64px;font-size:5.6px;color:#878a99;letter-spacing:0.288px;left:229.3px;">Price</div>
<div class="t" id="t200" style="top:535.34px;font-size:6.5px;color:#495057;letter-spacing:0.266px;left:266px;">74</div>
<div class="t" id="t201" style="top:544.64px;font-size:5.6px;color:#878a99;letter-spacing:0.318px;left:266px;">Orders</div>
<div class="t" id="t202" style="top:535.34px;font-size:6.5px;color:#495057;left:299.4px;">805</div>
<div class="t" id="t203" style="top:544.64px;font-size:5.6px;color:#878a99;letter-spacing:0.325px;left:299.4px;">Stock</div>
<div class="t" id="t204" style="top:535.34px;font-size:6.4px;color:#495057;letter-spacing:-0.120px;left:351.1px;">$3996</div>
<div class="t" id="t205" style="top:544.64px;font-size:5.6px;color:#878a99;letter-spacing:0.564px;left:351.1px;">Amount</div>
<div class="b" style="left:115px;top:554.59px;width:273.3px;height:0;border-top:0.5px solid #eef0f2"></div>
<div class="t" id="t206" style="top:567.5px;font-size:5.6px;color:#878a99;letter-spacing:0.151px;left:122px;">Showing <b style="color:#5c6068">5</b> of <b style="color:#5c6068">25</b> Results</div>
<div class="b" style="left:318px;top:562.3px;width:12.199999999999989px;height:10.9px;background:#fff;border-radius:1.5px;border:0.5px solid #e9ebec"></div>
<svg class="b" style="left:321.90000000000003px;top:566.25px;" width="4.4" height="3" viewBox="0 0 4.4 3"><path d="M4 1.5 H0.6 M1.7 0.4 L0.6 1.5 L1.7 2.6" stroke="#878a99" stroke-width="0.55" fill="none"/></svg>
<div class="b" style="left:332.3px;top:562.3px;width:9.399999999999977px;height:10.9px;background:#fff;border-radius:1.5px;border:0.5px solid #e9ebec"></div>
<div class="t" id="t207" style="top:567.8px;font-size:4.8px;color:#878a99;left:337.000px;transform:translateX(-50%);">1</div>
<div class="b" style="left:344.3px;top:562.3px;width:10.199999999999989px;height:10.9px;background:#405189;border-radius:1.5px;"></div>
<div class="t" id="t208" style="top:567.8px;font-size:4.8px;color:#fff;left:349.400px;transform:translateX(-50%);">2</div>
<div class="b" style="left:356.7px;top:562.3px;width:11.300000000000011px;height:10.9px;background:#fff;border-radius:1.5px;border:0.5px solid #e9ebec"></div>
<div class="t" id="t209" style="top:567.8px;font-size:4.8px;color:#878a99;left:362.350px;transform:translateX(-50%);">3</div>
<div class="b" style="left:369.8px;top:562.3px;width:12.0px;height:10.9px;background:#fff;border-radius:1.5px;border:0.5px solid #e9ebec"></div>
<svg class="b" style="left:373.6px;top:566.25px;" width="4.4" height="3" viewBox="0 0 4.4 3"><path d="M0.4 1.5 H3.8 M2.7 0.4 L3.8 1.5 L2.7 2.6" stroke="#495057" stroke-width="0.55" fill="none"/></svg>
<div class="b" style="left:398.9px;top:380.4px;width:273.3px;height:199.5px;background:#fff;border-radius:1.7px;box-shadow:0 0.4px 0.9px rgba(56,65,74,.15)"></div>
<div class="t" id="t210" style="top:391.2px;font-size:7.0px;color:#495057;font-weight:500;-webkit-text-stroke-width:0.08px;letter-spacing:0.236px;left:406px;">Top Sellers</div>
<div class="t" id="t211" style="top:391.2px;font-size:5.5px;color:#878a99;letter-spacing:0.217px;left:640.6px;">Report</div>
<svg class="b" style="left:661.5px;top:390px;" width="4" height="2.6" viewBox="0 0 4 2.6"><path d="M0.5 0.4 L2 1.9 L3.5 0.4" fill="#878a99"/></svg>
<div class="b" style="left:398.9px;top:402.1px;width:273.30000000000007px;height:0;border-top:0.5px solid #eef0f2"></div>
<svg class="b" style="left:408.8px;top:410.9px;" width="13" height="13" viewBox="0 0 13 13"><defs><linearGradient id="lg0" x1="0" y1="0.2" x2="1" y2="0.8"><stop offset="0" stop-color="#3fb0ec"/><stop offset="0.45" stop-color="#3b4fb8"/><stop offset="1" stop-color="#5b2d9a"/></linearGradient></defs><path d="M4.7 0.25 A6.4 6.4 0 0 0 6.3 12.8 L5.2 5.2 Z" fill="url(#lg0)"/><path d="M5.6 0.2 A6.4 6.4 0 0 1 12.7 5.9 L6 5 Z" fill="url(#lg0)"/><path d="M6.3 6.2 L12.9 7.3 L7.8 12.4 Z" fill="url(#lg0)"/></svg>
<div class="t" id="t212" style="top:413.1px;font-size:6.3px;color:#495057;-webkit-text-stroke-width:0.1px;letter-spacing:0.158px;left:429px;">iTest Factory</div>
<div class="t" id="t213" style="top:421.9px;font-size:5.6px;color:#878a99;letter-spacing:0.165px;left:429px;">Oliver Tyler</div>
<div class="t" id="t214" style="top:417.6px;font-size:5.6px;color:#878a99;letter-spacing:0.285px;left:510.8px;">Bags and Wallets</div>
<div class="t" id="t215" style="top:413.0px;font-size:6.3px;color:#495057;letter-spacing:-0.172px;left:575.8px;">8547</div>
<div class="t" id="t216" style="top:421.9px;font-size:5.6px;color:#878a99;letter-spacing:0.250px;left:575.8px;">Stock</div>
<div class="t" id="t217" style="top:417.4px;font-size:5.8px;color:#878a99;letter-spacing:-0.080px;left:602.5px;">$541200</div>
<div class="t" id="t218" style="top:416.8px;font-size:6.0px;color:#495057;-webkit-text-stroke-width:0.08px;letter-spacing:-0.358px;left:637.7px;">32%</div>
<svg class="b" style="left:652.8px;top:413.8px;" width="6.4" height="6.4" viewBox="0 0 6.4 6.4"><g fill="#0ab39c"><rect x="0.4" y="3.6" width="1.3" height="2.6"/><rect x="2.5" y="1.2" width="1.3" height="5"/><rect x="4.6" y="3" width="1.3" height="3.2"/><rect x="0" y="5.6" width="6.4" height="0.6"/></g></svg>
<div class="b" style="left:398.9px;top:432.35px;width:273.30000000000007px;height:0;border-top:0.5px solid #eef0f2"></div>
<svg class="b" style="left:408.8px;top:441.46px;" width="13" height="13" viewBox="0 0 13 13"><defs><linearGradient id="lg1" x1="0" y1="0" x2="0" y2="1"><stop offset="0" stop-color="#2c9ad6"/><stop offset="1" stop-color="#5b2d91"/></linearGradient></defs><circle cx="6.5" cy="6.5" r="6.2" fill="url(#lg1)"/><circle cx="6.5" cy="6.5" r="4.8" fill="#fff"/><circle cx="6.5" cy="6.5" r="4.1" fill="url(#lg1)"/><path d="M4.3 9.4 V7 M5.8 9.4 V5 M7.2 9.4 V5.6 M8.7 9.4 V7.2" stroke="#fff" stroke-width="0.75"/></svg>
<div class="t" id="t219" style="top:443.66px;font-size:6.3px;color:#495057;-webkit-text-stroke-width:0.1px;letter-spacing:0.149px;left:429px;">Digitech Galaxy</div>
<div class="t" id="t220" style="top:452.46px;font-size:5.6px;color:#878a99;letter-spacing:0.220px;left:429px;">John Roberts</div>
<div class="t" id="t221" style="top:448.16px;font-size:5.6px;color:#878a99;letter-spacing:0.473px;left:510.8px;">Watches</div>
<div class="t" id="t222" style="top:443.56px;font-size:6.3px;color:#495057;letter-spacing:-0.258px;left:575.8px;">895</div>
<div class="t" id="t223" style="top:452.46px;font-size:5.6px;color:#878a99;letter-spacing:0.250px;left:575.8px;">Stock</div>
<div class="t" id="t224" style="top:447.96px;font-size:5.8px;color:#878a99;letter-spacing:0.011px;left:602.5px;">$75030</div>
<div class="t" id="t225" style="top:447.36px;font-size:6.0px;color:#495057;-webkit-text-stroke-width:0.08px;letter-spacing:-0.358px;left:637.7px;">79%</div>
<svg class="b" style="left:652.8px;top:444.36px;" width="6.4" height="6.4" viewBox="0 0 6.4 6.4"><g fill="#0ab39c"><rect x="0.4" y="3.6" width="1.3" height="2.6"/><rect x="2.5" y="1.2" width="1.3" height="5"/><rect x="4.6" y="3" width="1.3" height="3.2"/><rect x="0" y="5.6" width="6.4" height="0.6"/></g></svg>
<div class="b" style="left:398.9px;top:462.91px;width:273.30000000000007px;height:0;border-top:0.5px solid #eef0f2"></div>
<svg class="b" style="left:408.8px;top:472.02px;" width="13" height="13" viewBox="0 0 13 13"><path d="M4.8 1.2 Q0.5 3 0.8 7.5 Q1.6 11.4 5.2 11.8 Z" fill="#ffb000"/><path d="M5.6 3.4 L5.8 11.8 Q9.6 11.6 10.6 8.4 Z" fill="#ffc23a"/><path d="M6.2 1.6 Q11 1.4 12.3 7.4 L11.6 7.8 Z" fill="#ffb000"/></svg>
<div class="t" id="t226" style="top:474.22px;font-size:6.3px;color:#495057;-webkit-text-stroke-width:0.1px;letter-spacing:0.197px;left:429px;">Nesta Technologies</div>
<div class="t" id="t227" style="top:483.02px;font-size:5.6px;color:#878a99;letter-spacing:0.107px;left:429px;">Harley Fuller</div>
<div class="t" id="t228" style="top:478.72px;font-size:5.6px;color:#878a99;letter-spacing:0.181px;left:510.8px;">Bike Accessories</div>
<div class="t" id="t229" style="top:474.12px;font-size:6.3px;color:#495057;letter-spacing:-0.172px;left:575.8px;">3470</div>
<div class="t" id="t230" style="top:483.02px;font-size:5.6px;color:#878a99;letter-spacing:0.250px;left:575.8px;">Stock</div>
<div class="t" id="t231" style="top:478.52px;font-size:5.8px;color:#878a99;letter-spacing:0.011px;left:602.5px;">$45600</div>
<div class="t" id="t232" style="top:477.92px;font-size:6.0px;color:#495057;-webkit-text-stroke-width:0.08px;letter-spacing:-0.358px;left:637.7px;">90%</div>
<svg class="b" style="left:652.8px;top:474.92px;" width="6.4" height="6.4" viewBox="0 0 6.4 6.4"><g fill="#0ab39c"><rect x="0.4" y="3.6" width="1.3" height="2.6"/><rect x="2.5" y="1.2" width="1.3" height="5"/><rect x="4.6" y="3" width="1.3" height="3.2"/><rect x="0" y="5.6" width="6.4" height="0.6"/></g></svg>
<div class="b" style="left:398.9px;top:493.47px;width:273.30000000000007px;height:0;border-top:0.5px solid #eef0f2"></div>
<svg class="b" style="left:408.8px;top:502.58px;" width="13" height="13" viewBox="0 0 13 13"><path d="M3.6 1.4 H9.4 L12.3 6.5 L9.4 11.6 H3.6 L0.7 6.5 Z" fill="none" stroke="#4eb3ea" stroke-width="0.9" stroke-linejoin="round"/><path d="M6.2 1.4 H9.4 L12.3 6.5 L9.4 11.6 Z" fill="#3aa3e3"/><path d="M6.2 1.4 H9.4 L10.8 3.9 L7.6 3.9 Z" fill="#8ccff3"/></svg>
<div class="t" id="t233" style="top:504.78000000000003px;font-size:6.3px;color:#495057;-webkit-text-stroke-width:0.1px;letter-spacing:0.145px;left:429px;">Zoetic Fashion</div>
<div class="t" id="t234" style="top:513.58px;font-size:5.6px;color:#878a99;letter-spacing:0.316px;left:429px;">James Bowen</div>
<div class="t" id="t235" style="top:509.28000000000003px;font-size:5.6px;color:#878a99;letter-spacing:0.405px;left:510.8px;">Clothes</div>
<div class="t" id="t236" style="top:504.68px;font-size:6.3px;color:#495057;letter-spacing:-0.172px;left:575.8px;">5488</div>
<div class="t" id="t237" style="top:513.58px;font-size:5.6px;color:#878a99;letter-spacing:0.250px;left:575.8px;">Stock</div>
<div class="t" id="t238" style="top:509.08px;font-size:5.8px;color:#878a99;letter-spacing:0.171px;left:602.5px;">$29456</div>
<div class="t" id="t239" style="top:508.48px;font-size:6.0px;color:#495057;-webkit-text-stroke-width:0.08px;letter-spacing:-0.358px;left:637.7px;">40%</div>
<svg class="b" style="left:652.8px;top:505.48px;" width="6.4" height="6.4" viewBox="0 0 6.4 6.4"><g fill="#0ab39c"><rect x="0.4" y="3.6" width="1.3" height="2.6"/><rect x="2.5" y="1.2" width="1.3" height="5"/><rect x="4.6" y="3" width="1.3" height="3.2"/><rect x="0" y="5.6" width="6.4" height="0.6"/></g></svg>
<div class="b" style="left:398.9px;top:524.03px;width:273.30000000000007px;height:0;border-top:0.5px solid #eef0f2"></div>
<svg class="b" style="left:408.8px;top:533.14px;" width="13" height="13" viewBox="0 0 13 13"><path d="M6.8 2.2 A4.3 4.3 0 1 1 9.6 10.4" stroke="#f4593b" stroke-width="1.5" fill="none" stroke-linecap="round"/><path d="M6.2 10.8 A4.3 4.3 0 1 1 3.4 2.6" stroke="#f4593b" stroke-width="1.5" fill="none" stroke-linecap="round"/><path d="M5.2 6.5 A1.3 1.3 0 1 1 7.8 6.5" stroke="#f4593b" stroke-width="1.3" fill="none"/></svg>
<div class="t" id="t240" style="top:535.34px;font-size:6.3px;color:#495057;-webkit-text-stroke-width:0.1px;letter-spacing:0.240px;left:429px;">Meta4Systems</div>
<div class="t" id="t241" style="top:544.14px;font-size:5.6px;color:#878a99;letter-spacing:0.155px;left:429px;">Zoe Dennis</div>
<div class="t" id="t242" style="top:539.84px;font-size:5.6px;color:#878a99;letter-spacing:0.201px;left:510.8px;">Furniture</div>
<div class="t" id="t243" style="top:535.24px;font-size:6.3px;color:#495057;letter-spacing:-0.172px;left:575.8px;">4100</div>
<div class="t" id="t244" style="top:544.14px;font-size:5.6px;color:#878a99;letter-spacing:0.250px;left:575.8px;">Stock</div>
<div class="t" id="t245" style="top:539.64px;font-size:5.8px;color:#878a99;letter-spacing:-0.044px;left:602.5px;">$11260</div>
<div class="t" id="t246" style="top:539.04px;font-size:6.0px;color:#495057;-webkit-text-stroke-width:0.08px;letter-spacing:-0.358px;left:637.7px;">57%</div>
<svg class="b" style="left:652.8px;top:536.04px;" width="6.4" height="6.4" viewBox="0 0 6.4 6.4"><g fill="#0ab39c"><rect x="0.4" y="3.6" width="1.3" height="2.6"/><rect x="2.5" y="1.2" width="1.3" height="5"/><rect x="4.6" y="3" width="1.3" height="3.2"/><rect x="0" y="5.6" width="6.4" height="0.6"/></g></svg>
<div class="b" style="left:398.9px;top:554.59px;width:273.30000000000007px;height:0;border-top:0.5px solid #eef0f2"></div>
<div class="t" id="t247" style="top:567.5px;font-size:5.6px;color:#878a99;letter-spacing:0.151px;left:406px;">Showing <b style="color:#5c6068">5</b> of <b style="color:#5c6068">25</b> Results</div>
<div class="b" style="left:601.6px;top:562.3px;width:11.899999999999977px;height:10.9px;background:#fff;border-radius:1.5px;border:0.5px solid #e9ebec"></div>
<svg class="b" style="left:605.3499999999999px;top:566.25px;" width="4.4" height="3" viewBox="0 0 4.4 3"><path d="M4 1.5 H0.6 M1.7 0.4 L0.6 1.5 L1.7 2.6" stroke="#878a99" stroke-width="0.55" fill="none"/></svg>
<div class="b" style="left:616.5px;top:562.3px;width:9.299999999999955px;height:10.9px;background:#fff;border-radius:1.5px;border:0.5px solid #e9ebec"></div>
<div class="t" id="t248" style="top:567.8px;font-size:4.8px;color:#878a99;left:621.150px;transform:translateX(-50%);">1</div>
<div class="b" style="left:627.9px;top:562.3px;width:10.100000000000023px;height:10.9px;background:#405189;border-radius:1.5px;"></div>
<div class="t" id="t249" style="top:567.8px;font-size:4.8px;color:#fff;left:632.950px;transform:translateX(-50%);">2</div>
<div class="b" style="left:640.6px;top:562.3px;width:10.0px;height:10.9px;background:#fff;border-radius:1.5px;border:0.5px solid #e9ebec"></div>
<div class="t" id="t250" style="top:567.8px;font-size:4.8px;color:#878a99;left:645.600px;transform:translateX(-50%);">3</div>
<div class="b" style="left:653.4px;top:562.3px;width:12.300000000000068px;height:10.9px;background:#fff;border-radius:1.5px;border:0.5px solid #e9ebec"></div>
<svg class="b" style="left:657.3499999999999px;top:566.25px;" width="4.4" height="3" viewBox="0 0 4.4 3"><path d="M0.4 1.5 H3.8 M2.7 0.4 L3.8 1.5 L2.7 2.6" stroke="#495057" stroke-width="0.55" fill="none"/></svg>
<div class="b" style="left:115.5px;top:590.5px;width:178.2px;height:40px;background:#fff;border-radius:1.7px;box-shadow:0 0.4px 0.9px rgba(56,65,74,.15)"></div>
<div class="t" id="t251" style="top:601.3px;font-size:7.0px;color:#495057;font-weight:500;-webkit-text-stroke-width:0.08px;letter-spacing:0.155px;left:121.5px;">Store Visits by Source</div>
<div class="t" id="t252" style="top:601.3px;font-size:5.5px;color:#878a99;letter-spacing:0.330px;left:262.6px;">Report</div>
<div class="b" style="left:304px;top:590.4px;width:368.2px;height:40px;background:#fff;border-radius:1.7px;box-shadow:0 0.4px 0.9px rgba(56,65,74,.15)"></div>
<div class="b" style="left:612.6px;top:597px;width:53.1px;height:12px;background:#dcecf7;border-radius:1.5px;"></div>
</body></html>
